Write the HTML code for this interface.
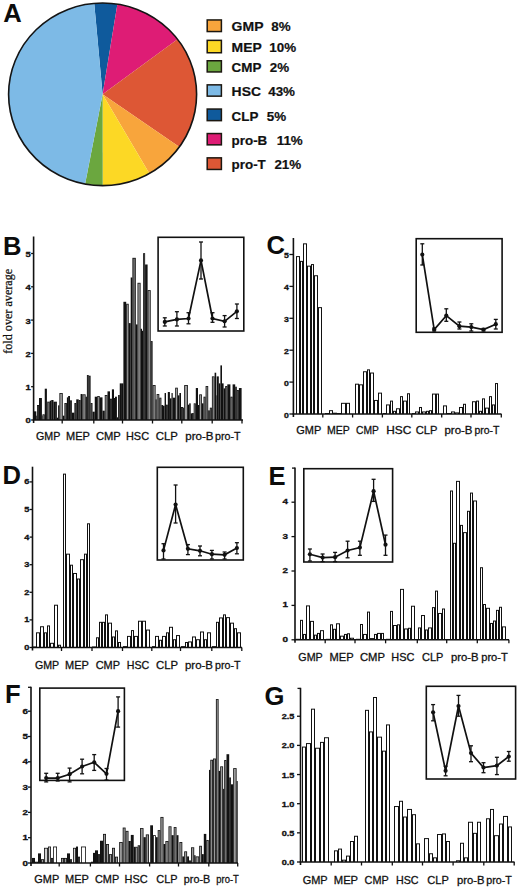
<!DOCTYPE html>
<html><head><meta charset="utf-8"><title>Figure</title>
<style>
html,body{margin:0;padding:0;background:#fff;}
body{width:520px;height:890px;overflow:hidden;}
svg{display:block;}
.lg{font-family:"Liberation Sans", sans-serif;font-weight:bold;font-size:13.4px;fill:#111;stroke:#111;stroke-width:0.2px;}
.pl{font-family:"Liberation Sans", sans-serif;font-weight:bold;font-size:25.6px;fill:#0c0c0c;}
.yt{font-family:"Liberation Sans", sans-serif;font-weight:bold;font-size:7.3px;fill:#111;stroke:#111;stroke-width:0.3px;}
.xl{font-family:"Liberation Sans", sans-serif;font-size:11px;fill:#111;stroke:#111;stroke-width:0.3px;}
.yl{font-family:"Liberation Serif", serif;font-size:12.2px;fill:#111;stroke:#111;stroke-width:0.25px;}
</style></head>
<body>
<svg width="520" height="890" viewBox="0 0 520 890">
<rect width="520" height="890" fill="#fff"/>
<defs><clipPath id="pc"><ellipse cx="102.6" cy="94.3" rx="94" ry="91.3"/></clipPath></defs>
<g clip-path="url(#pc)">
<polygon fill="#0F5A9C" points="102.6,94.3 77.4,-179.6 147,-176.6"/>
<polygon fill="#DE1C75" points="102.6,94.3 147,-176.6 240,-60 326.4,-69.8"/>
<polygon fill="#DD5735" points="102.6,94.3 326.4,-69.8 320,94 329.1,249.4"/>
<polygon fill="#F8A53C" points="102.6,94.3 329.1,249.4 250,300 237.3,322.3"/>
<polygon fill="#FCD825" points="102.6,94.3 237.3,322.3 102.9,369.4"/>
<polygon fill="#6BA73F" points="102.6,94.3 102.9,369.4 51,358.9"/>
<polygon fill="#7DBAE6" points="102.6,94.3 51,358.9 -200,300 -200,-200 77.4,-179.6"/>
</g>
<ellipse cx="102.6" cy="94.3" rx="94" ry="91.3" fill="none" stroke="#141414" stroke-width="1.6"/>
<rect x="207.2" y="19.95" width="14.2" height="11.6" fill="#F8A53C" stroke="#1c1710" stroke-width="1.5"/>
<text x="231.6" y="31.2" class="lg" textLength="31.9" lengthAdjust="spacingAndGlyphs">GMP</text>
<text x="271.3" y="31.2" class="lg">8%</text>
<rect x="207.2" y="40.35" width="14.2" height="12.4" fill="#FCD825" stroke="#1c1710" stroke-width="1.5"/>
<text x="231.6" y="52.3" class="lg" textLength="30.2" lengthAdjust="spacingAndGlyphs">MEP</text>
<text x="269.3" y="52.3" class="lg">10%</text>
<rect x="207.2" y="60.75" width="14.2" height="11.2" fill="#6BA73F" stroke="#1c1710" stroke-width="1.5"/>
<text x="231.6" y="72.3" class="lg">CMP</text>
<text x="269.8" y="72.3" class="lg">2%</text>
<rect x="207.2" y="84.85" width="14.2" height="11.3" fill="#7DBAE6" stroke="#1c1710" stroke-width="1.5"/>
<text x="231.6" y="95.9" class="lg" textLength="29.4" lengthAdjust="spacingAndGlyphs">HSC</text>
<text x="268.2" y="95.9" class="lg">43%</text>
<rect x="207.2" y="109.05" width="14.2" height="11.6" fill="#0F5A9C" stroke="#1c1710" stroke-width="1.5"/>
<text x="231.6" y="120.5" class="lg">CLP</text>
<text x="266.7" y="120.5" class="lg">5%</text>
<rect x="207.2" y="133.55" width="14.2" height="11.3" fill="#DE1C75" stroke="#1c1710" stroke-width="1.5"/>
<text x="231.6" y="145" class="lg">pro-B</text>
<text x="276.7" y="145" class="lg">11%</text>
<rect x="207.2" y="157.85" width="14.2" height="11.6" fill="#DD5735" stroke="#1c1710" stroke-width="1.5"/>
<text x="231.6" y="168.8" class="lg">pro-T</text>
<text x="274.4" y="168.8" class="lg">21%</text>
<text x="3.2" y="21.9" class="pl">A</text>
<text x="3" y="254.8" class="pl">B</text>
<text x="266.6" y="253.6" class="pl">C</text>
<text x="2.4" y="483.7" class="pl">D</text>
<text x="268.6" y="485.2" class="pl">E</text>
<text x="4.9" y="702.8" class="pl">F</text>
<text x="264.5" y="704.7" class="pl">G</text>
<rect x="33.5" y="411.34" width="2.8" height="8.66" fill="#111"/>
<rect x="34.3" y="412.14" width="1.2" height="7.86" fill="#151515"/>
<rect x="36.3" y="415.67" width="0.7" height="4.33" fill="#111"/>
<rect x="37" y="405.01" width="2" height="14.99" fill="#111"/>
<rect x="37.8" y="405.81" width="0.4" height="14.19" fill="#9a9a9a"/>
<rect x="39" y="398.02" width="2.9" height="21.98" fill="#111"/>
<rect x="39.8" y="398.82" width="1.3" height="21.18" fill="#151515"/>
<rect x="41.9" y="415.67" width="0.6" height="4.33" fill="#111"/>
<rect x="42.5" y="414.34" width="2.25" height="5.66" fill="#111"/>
<rect x="43.3" y="415.14" width="0.65" height="4.86" fill="#9a9a9a"/>
<rect x="44.75" y="388.7" width="2.15" height="31.3" fill="#111"/>
<rect x="45.55" y="389.5" width="0.55" height="30.5" fill="#151515"/>
<rect x="46.9" y="401.69" width="0.6" height="18.31" fill="#111"/>
<rect x="47.5" y="401.69" width="2.25" height="18.31" fill="#111"/>
<rect x="48.3" y="402.49" width="0.65" height="17.51" fill="#9a9a9a"/>
<rect x="49.75" y="400.69" width="1.5" height="19.31" fill="#111"/>
<rect x="51.25" y="400.02" width="2.25" height="19.98" fill="#111"/>
<rect x="52.05" y="400.82" width="0.65" height="19.18" fill="#151515"/>
<rect x="53.5" y="401.69" width="1.5" height="18.31" fill="#111"/>
<rect x="55" y="401.69" width="1.9" height="18.31" fill="#111"/>
<rect x="55.8" y="402.49" width="0.3" height="17.51" fill="#9a9a9a"/>
<rect x="56.9" y="417.67" width="1.2" height="2.33" fill="#111"/>
<rect x="58.1" y="405.35" width="1.3" height="14.65" fill="#111"/>
<rect x="59.4" y="393.03" width="3.35" height="26.97" fill="#111"/>
<rect x="60.2" y="393.83" width="1.75" height="26.17" fill="#9a9a9a"/>
<rect x="62.75" y="415.67" width="1.65" height="4.33" fill="#111"/>
<rect x="63.55" y="416.47" width="0.05" height="3.53" fill="#151515"/>
<rect x="64.4" y="403.02" width="2.5" height="16.98" fill="#111"/>
<rect x="65.2" y="403.82" width="0.9" height="16.18" fill="#666"/>
<rect x="66.9" y="397.36" width="1.2" height="22.64" fill="#111"/>
<rect x="68.1" y="396.02" width="1.9" height="23.98" fill="#111"/>
<rect x="68.9" y="396.82" width="0.3" height="23.18" fill="#151515"/>
<rect x="70" y="400.35" width="1.9" height="19.65" fill="#111"/>
<rect x="70.8" y="401.15" width="0.3" height="18.85" fill="#9a9a9a"/>
<rect x="71.9" y="412.67" width="2.5" height="7.33" fill="#111"/>
<rect x="72.7" y="413.47" width="0.9" height="6.53" fill="#151515"/>
<rect x="74.4" y="403.02" width="1.85" height="16.98" fill="#111"/>
<rect x="75.2" y="403.82" width="0.25" height="16.18" fill="#9a9a9a"/>
<rect x="76.25" y="399.35" width="2.5" height="20.65" fill="#111"/>
<rect x="77.05" y="400.15" width="0.9" height="19.85" fill="#151515"/>
<rect x="78.75" y="400.02" width="1.85" height="19.98" fill="#111"/>
<rect x="79.55" y="400.82" width="0.25" height="19.18" fill="#9a9a9a"/>
<rect x="80.6" y="394.03" width="1.9" height="25.97" fill="#111"/>
<rect x="81.4" y="394.83" width="0.3" height="25.17" fill="#151515"/>
<rect x="82.5" y="394.36" width="3.1" height="25.64" fill="#111"/>
<rect x="83.3" y="395.16" width="1.5" height="24.84" fill="#9a9a9a"/>
<rect x="85.6" y="396.69" width="1.3" height="23.31" fill="#111"/>
<rect x="86.9" y="375.05" width="1.85" height="44.95" fill="#111"/>
<rect x="87.7" y="375.85" width="0.25" height="44.15" fill="#666"/>
<rect x="88.75" y="375.71" width="1.85" height="44.29" fill="#111"/>
<rect x="89.55" y="376.51" width="0.25" height="43.49" fill="#9a9a9a"/>
<rect x="90.6" y="403.02" width="1.9" height="16.98" fill="#111"/>
<rect x="91.4" y="403.82" width="0.3" height="16.18" fill="#9a9a9a"/>
<rect x="92.5" y="411.68" width="2.25" height="8.32" fill="#111"/>
<rect x="93.3" y="412.48" width="0.65" height="7.52" fill="#151515"/>
<rect x="94.75" y="396.69" width="2.5" height="23.31" fill="#111"/>
<rect x="95.55" y="397.49" width="0.9" height="22.51" fill="#151515"/>
<rect x="97.25" y="396.02" width="2.5" height="23.98" fill="#111"/>
<rect x="98.05" y="396.82" width="0.9" height="23.18" fill="#9a9a9a"/>
<rect x="99.75" y="397.36" width="2.75" height="22.64" fill="#111"/>
<rect x="100.55" y="398.16" width="1.15" height="21.84" fill="#151515"/>
<rect x="102.5" y="410.68" width="2.25" height="9.32" fill="#111"/>
<rect x="103.3" y="411.48" width="0.65" height="8.52" fill="#151515"/>
<rect x="104.75" y="395.02" width="2.75" height="24.98" fill="#111"/>
<rect x="105.55" y="395.82" width="1.15" height="24.18" fill="#9a9a9a"/>
<rect x="107.5" y="391.36" width="2.5" height="28.64" fill="#111"/>
<rect x="108.3" y="392.16" width="0.9" height="27.84" fill="#151515"/>
<rect x="110" y="398.69" width="1.9" height="21.31" fill="#111"/>
<rect x="110.8" y="399.49" width="0.3" height="20.51" fill="#9a9a9a"/>
<rect x="111.9" y="389.36" width="2.1" height="30.64" fill="#111"/>
<rect x="112.7" y="390.16" width="0.5" height="29.84" fill="#151515"/>
<rect x="114" y="398.02" width="1" height="21.98" fill="#111"/>
<rect x="115" y="396.69" width="1.9" height="23.31" fill="#111"/>
<rect x="115.8" y="397.49" width="0.3" height="22.51" fill="#151515"/>
<rect x="116.9" y="417.34" width="1.2" height="2.66" fill="#111"/>
<rect x="118.1" y="395.02" width="1.65" height="24.98" fill="#111"/>
<rect x="118.9" y="395.82" width="0.05" height="24.18" fill="#151515"/>
<rect x="119.75" y="383.37" width="2.15" height="36.63" fill="#111"/>
<rect x="120.55" y="384.17" width="0.55" height="35.83" fill="#151515"/>
<rect x="121.9" y="383.37" width="1.5" height="36.63" fill="#111"/>
<rect x="123.4" y="301.79" width="2.8" height="118.21" fill="#111"/>
<rect x="124.2" y="302.59" width="1.2" height="117.41" fill="#151515"/>
<rect x="126.2" y="303.78" width="2.5" height="116.22" fill="#111"/>
<rect x="127" y="304.58" width="0.9" height="115.42" fill="#9a9a9a"/>
<rect x="128.7" y="323.1" width="2" height="96.9" fill="#111"/>
<rect x="129.5" y="323.9" width="0.4" height="96.1" fill="#151515"/>
<rect x="130.7" y="277.48" width="1.7" height="142.52" fill="#111"/>
<rect x="131.5" y="278.28" width="0.1" height="141.72" fill="#151515"/>
<rect x="132.4" y="257.83" width="3.4" height="162.17" fill="#111"/>
<rect x="133.2" y="258.63" width="1.8" height="161.37" fill="#666"/>
<rect x="135.8" y="324.43" width="1.7" height="95.57" fill="#111"/>
<rect x="136.6" y="325.23" width="0.1" height="94.77" fill="#151515"/>
<rect x="137.5" y="282.8" width="3.1" height="137.2" fill="#111"/>
<rect x="138.3" y="283.6" width="1.5" height="136.4" fill="#9a9a9a"/>
<rect x="140.6" y="328.76" width="1.4" height="91.24" fill="#111"/>
<rect x="142" y="330.76" width="1.1" height="89.24" fill="#111"/>
<rect x="143.1" y="253.17" width="2" height="166.83" fill="#111"/>
<rect x="143.9" y="253.97" width="0.4" height="166.03" fill="#9a9a9a"/>
<rect x="145.1" y="264.49" width="2.5" height="155.51" fill="#111"/>
<rect x="145.9" y="265.29" width="0.9" height="154.71" fill="#151515"/>
<rect x="147.6" y="290.13" width="3.1" height="129.87" fill="#111"/>
<rect x="148.4" y="290.93" width="1.5" height="129.07" fill="#9a9a9a"/>
<rect x="150.7" y="341.08" width="1.9" height="78.92" fill="#111"/>
<rect x="151.5" y="341.88" width="0.3" height="78.12" fill="#9a9a9a"/>
<rect x="152.6" y="385.04" width="3" height="34.96" fill="#111"/>
<rect x="153.4" y="385.84" width="1.4" height="34.16" fill="#9a9a9a"/>
<rect x="155.6" y="399.35" width="1" height="20.65" fill="#111"/>
<rect x="156.6" y="394.03" width="2.7" height="25.97" fill="#111"/>
<rect x="157.4" y="394.83" width="1.1" height="25.17" fill="#9a9a9a"/>
<rect x="159.3" y="397.69" width="2.1" height="22.31" fill="#111"/>
<rect x="160.1" y="398.49" width="0.5" height="21.51" fill="#9a9a9a"/>
<rect x="161.4" y="405.01" width="1.6" height="14.99" fill="#111"/>
<rect x="163" y="405.68" width="1.6" height="14.32" fill="#111"/>
<rect x="164.6" y="393.03" width="1.4" height="26.97" fill="#111"/>
<rect x="166" y="404.68" width="1.8" height="15.32" fill="#111"/>
<rect x="166.8" y="405.48" width="0.2" height="14.52" fill="#9a9a9a"/>
<rect x="167.8" y="392.03" width="2.1" height="27.97" fill="#111"/>
<rect x="168.6" y="392.83" width="0.5" height="27.17" fill="#151515"/>
<rect x="169.9" y="398.36" width="1.6" height="21.64" fill="#111"/>
<rect x="171.5" y="393.03" width="1.2" height="26.97" fill="#111"/>
<rect x="172.7" y="397.69" width="2.5" height="22.31" fill="#111"/>
<rect x="173.5" y="398.49" width="0.9" height="21.51" fill="#151515"/>
<rect x="175.2" y="387.7" width="2.6" height="32.3" fill="#111"/>
<rect x="176" y="388.5" width="1" height="31.5" fill="#9a9a9a"/>
<rect x="177.8" y="395.36" width="1.6" height="24.64" fill="#111"/>
<rect x="179.4" y="393.03" width="1.6" height="26.97" fill="#111"/>
<rect x="181" y="407.01" width="2.1" height="12.99" fill="#111"/>
<rect x="181.8" y="407.81" width="0.5" height="12.19" fill="#9a9a9a"/>
<rect x="183.1" y="407.68" width="1.1" height="12.32" fill="#111"/>
<rect x="184.2" y="385.04" width="3.7" height="34.96" fill="#111"/>
<rect x="185" y="385.84" width="2.1" height="34.16" fill="#9a9a9a"/>
<rect x="187.9" y="404.68" width="1.3" height="15.32" fill="#111"/>
<rect x="189.2" y="403.35" width="1.5" height="16.65" fill="#111"/>
<rect x="190.7" y="413.34" width="1.4" height="6.66" fill="#111"/>
<rect x="192.1" y="413.01" width="1.6" height="6.99" fill="#111"/>
<rect x="193.7" y="403.35" width="2.1" height="16.65" fill="#111"/>
<rect x="194.5" y="404.15" width="0.5" height="15.85" fill="#9a9a9a"/>
<rect x="195.8" y="388.03" width="2.2" height="31.97" fill="#111"/>
<rect x="196.6" y="388.83" width="0.6" height="31.17" fill="#151515"/>
<rect x="198" y="405.01" width="1.2" height="14.99" fill="#111"/>
<rect x="199.2" y="394.36" width="2.7" height="25.64" fill="#111"/>
<rect x="200" y="395.16" width="1.1" height="24.84" fill="#9a9a9a"/>
<rect x="201.9" y="403.35" width="1.6" height="16.65" fill="#111"/>
<rect x="203.5" y="396.69" width="2.1" height="23.31" fill="#111"/>
<rect x="204.3" y="397.49" width="0.5" height="22.51" fill="#9a9a9a"/>
<rect x="205.6" y="386.03" width="2.6" height="33.97" fill="#111"/>
<rect x="206.4" y="386.83" width="1" height="33.17" fill="#9a9a9a"/>
<rect x="208.2" y="410.34" width="1.6" height="9.66" fill="#111"/>
<rect x="209" y="411.14" width="0" height="8.86" fill="#151515"/>
<rect x="209.8" y="407.68" width="2.1" height="12.32" fill="#111"/>
<rect x="210.6" y="408.48" width="0.5" height="11.52" fill="#9a9a9a"/>
<rect x="211.9" y="376.38" width="2.7" height="43.62" fill="#111"/>
<rect x="212.7" y="377.18" width="1.1" height="42.82" fill="#9a9a9a"/>
<rect x="214.6" y="372.71" width="1.6" height="47.29" fill="#111"/>
<rect x="216.2" y="395.36" width="0.5" height="24.64" fill="#111"/>
<rect x="216.7" y="376.38" width="2.1" height="43.62" fill="#111"/>
<rect x="217.5" y="377.18" width="0.5" height="42.82" fill="#151515"/>
<rect x="218.8" y="383.37" width="1.6" height="36.63" fill="#111"/>
<rect x="220.4" y="365.39" width="1.6" height="54.61" fill="#111"/>
<rect x="222" y="383.37" width="1.6" height="36.63" fill="#111"/>
<rect x="223.6" y="388.37" width="1.6" height="31.63" fill="#111"/>
<rect x="225.2" y="386.03" width="2.1" height="33.97" fill="#111"/>
<rect x="226" y="386.83" width="0.5" height="33.17" fill="#9a9a9a"/>
<rect x="227.3" y="384.37" width="3.1" height="35.63" fill="#111"/>
<rect x="228.1" y="385.17" width="1.5" height="34.83" fill="#151515"/>
<rect x="230.4" y="396.69" width="2.2" height="23.31" fill="#111"/>
<rect x="231.2" y="397.49" width="0.6" height="22.51" fill="#9a9a9a"/>
<rect x="232.6" y="384.37" width="2.6" height="35.63" fill="#111"/>
<rect x="233.4" y="385.17" width="1" height="34.83" fill="#151515"/>
<rect x="235.2" y="386.7" width="1.6" height="33.3" fill="#111"/>
<rect x="236" y="387.5" width="0" height="32.5" fill="#151515"/>
<rect x="236.8" y="390.03" width="2.1" height="29.97" fill="#111"/>
<rect x="237.6" y="390.83" width="0.5" height="29.17" fill="#9a9a9a"/>
<rect x="238.9" y="388.03" width="2.7" height="31.97" fill="#111"/>
<rect x="239.7" y="388.83" width="1.1" height="31.17" fill="#151515"/>
<line x1="33.6" y1="236.5" x2="33.6" y2="423" stroke="#111" stroke-width="1.6"/>
<line x1="32.8" y1="420" x2="243" y2="420" stroke="#111" stroke-width="1.5"/>
<line x1="62.2" y1="420" x2="62.2" y2="423.5" stroke="#111" stroke-width="1.3"/>
<line x1="93.8" y1="420" x2="93.8" y2="423.5" stroke="#111" stroke-width="1.3"/>
<line x1="122.5" y1="420" x2="122.5" y2="423.5" stroke="#111" stroke-width="1.3"/>
<line x1="152.5" y1="420" x2="152.5" y2="423.5" stroke="#111" stroke-width="1.3"/>
<line x1="181.8" y1="420" x2="181.8" y2="423.5" stroke="#111" stroke-width="1.3"/>
<line x1="212.2" y1="420" x2="212.2" y2="423.5" stroke="#111" stroke-width="1.3"/>
<line x1="242" y1="420" x2="242" y2="423.5" stroke="#111" stroke-width="1.3"/>
<line x1="31.1" y1="420" x2="33.6" y2="420" stroke="#111" stroke-width="1.3"/>
<text transform="translate(30.8,422.5) scale(1.3,1)" class="yt" text-anchor="end">0</text>
<line x1="31.1" y1="386.7" x2="33.6" y2="386.7" stroke="#111" stroke-width="1.3"/>
<text transform="translate(30.8,390.2) scale(1.3,1)" class="yt" text-anchor="end">1</text>
<line x1="31.1" y1="353.4" x2="33.6" y2="353.4" stroke="#111" stroke-width="1.3"/>
<text transform="translate(30.8,356.9) scale(1.3,1)" class="yt" text-anchor="end">2</text>
<line x1="31.1" y1="320.1" x2="33.6" y2="320.1" stroke="#111" stroke-width="1.3"/>
<text transform="translate(30.8,323.6) scale(1.3,1)" class="yt" text-anchor="end">3</text>
<line x1="31.1" y1="286.8" x2="33.6" y2="286.8" stroke="#111" stroke-width="1.3"/>
<text transform="translate(30.8,290.3) scale(1.3,1)" class="yt" text-anchor="end">4</text>
<line x1="31.1" y1="253.5" x2="33.6" y2="253.5" stroke="#111" stroke-width="1.3"/>
<text transform="translate(30.8,257) scale(1.3,1)" class="yt" text-anchor="end">5</text>
<text x="48.15" y="439.7" class="xl" text-anchor="middle" textLength="24.3" lengthAdjust="spacingAndGlyphs">GMP</text>
<text x="77.9" y="439.7" class="xl" text-anchor="middle" textLength="23.8" lengthAdjust="spacingAndGlyphs">MEP</text>
<text x="108.4" y="439.7" class="xl" text-anchor="middle" textLength="24.8" lengthAdjust="spacingAndGlyphs">CMP</text>
<text x="137.5" y="439.7" class="xl" text-anchor="middle" textLength="23" lengthAdjust="spacingAndGlyphs">HSC</text>
<text x="166.75" y="439.7" class="xl" text-anchor="middle" textLength="22.1" lengthAdjust="spacingAndGlyphs">CLP</text>
<text x="199.45" y="439.7" class="xl" text-anchor="middle" textLength="28.3" lengthAdjust="spacingAndGlyphs">pro-B</text>
<text x="227.75" y="439.7" class="xl" text-anchor="middle" textLength="25.5" lengthAdjust="spacingAndGlyphs">pro-T</text>
<rect x="158.1" y="237.3" width="85.7" height="93.7" fill="#fff" stroke="#111" stroke-width="1.6"/>
<polyline fill="none" stroke="#111" stroke-width="1.7" stroke-linejoin="miter" points="164.8,321.9 176.9,319.4 188.5,318.5 201,260.4 212.5,318.5 224.6,321.3 236.9,311.3"/>
<line x1="164.8" y1="317.8" x2="164.8" y2="326" stroke="#111" stroke-width="1.3"/>
<line x1="162.8" y1="317.8" x2="166.8" y2="317.8" stroke="#111" stroke-width="1.3"/>
<line x1="162.8" y1="326" x2="166.8" y2="326" stroke="#111" stroke-width="1.3"/>
<circle cx="164.8" cy="321.9" r="2.1" fill="#111"/>
<line x1="176.9" y1="311.7" x2="176.9" y2="326" stroke="#111" stroke-width="1.3"/>
<line x1="174.9" y1="311.7" x2="178.9" y2="311.7" stroke="#111" stroke-width="1.3"/>
<line x1="174.9" y1="326" x2="178.9" y2="326" stroke="#111" stroke-width="1.3"/>
<circle cx="176.9" cy="319.4" r="2.1" fill="#111"/>
<line x1="188.5" y1="312.7" x2="188.5" y2="323.8" stroke="#111" stroke-width="1.3"/>
<line x1="186.5" y1="312.7" x2="190.5" y2="312.7" stroke="#111" stroke-width="1.3"/>
<line x1="186.5" y1="323.8" x2="190.5" y2="323.8" stroke="#111" stroke-width="1.3"/>
<circle cx="188.5" cy="318.5" r="2.1" fill="#111"/>
<line x1="201" y1="242" x2="201" y2="279" stroke="#111" stroke-width="1.3"/>
<line x1="199" y1="242" x2="203" y2="242" stroke="#111" stroke-width="1.3"/>
<line x1="199" y1="279" x2="203" y2="279" stroke="#111" stroke-width="1.3"/>
<circle cx="201" cy="260.4" r="2.1" fill="#111"/>
<line x1="212.5" y1="312.7" x2="212.5" y2="322.3" stroke="#111" stroke-width="1.3"/>
<line x1="210.5" y1="312.7" x2="214.5" y2="312.7" stroke="#111" stroke-width="1.3"/>
<line x1="210.5" y1="322.3" x2="214.5" y2="322.3" stroke="#111" stroke-width="1.3"/>
<circle cx="212.5" cy="318.5" r="2.1" fill="#111"/>
<line x1="224.6" y1="315.6" x2="224.6" y2="327" stroke="#111" stroke-width="1.3"/>
<line x1="222.6" y1="315.6" x2="226.6" y2="315.6" stroke="#111" stroke-width="1.3"/>
<line x1="222.6" y1="327" x2="226.6" y2="327" stroke="#111" stroke-width="1.3"/>
<circle cx="224.6" cy="321.3" r="2.1" fill="#111"/>
<line x1="236.9" y1="304" x2="236.9" y2="318.5" stroke="#111" stroke-width="1.3"/>
<line x1="234.9" y1="304" x2="238.9" y2="304" stroke="#111" stroke-width="1.3"/>
<line x1="234.9" y1="318.5" x2="238.9" y2="318.5" stroke="#111" stroke-width="1.3"/>
<circle cx="236.9" cy="311.3" r="2.1" fill="#111"/>
<rect x="296" y="256.1" width="4" height="157.9" fill="#111"/>
<rect x="297" y="257.1" width="2" height="156.9" fill="#fff"/>
<rect x="300" y="260.88" width="3" height="153.12" fill="#111"/>
<rect x="301" y="261.88" width="1" height="152.12" fill="#fff"/>
<rect x="303" y="243.34" width="4" height="170.66" fill="#111"/>
<rect x="304" y="244.34" width="2" height="169.66" fill="#fff"/>
<rect x="307" y="265.66" width="4" height="148.34" fill="#111"/>
<rect x="308" y="266.66" width="2" height="147.34" fill="#fff"/>
<rect x="311" y="264.07" width="3" height="149.93" fill="#111"/>
<rect x="312" y="265.07" width="1" height="148.93" fill="#fff"/>
<rect x="314" y="275.24" width="4" height="138.76" fill="#111"/>
<rect x="315" y="276.24" width="2" height="137.76" fill="#fff"/>
<rect x="318" y="307.13" width="4" height="106.87" fill="#111"/>
<rect x="319" y="308.13" width="2" height="105.87" fill="#fff"/>
<rect x="325" y="413" width="4" height="1" fill="#111"/>
<rect x="329" y="410.17" width="4" height="3.83" fill="#111"/>
<rect x="330" y="411.17" width="2" height="2.83" fill="#fff"/>
<rect x="333" y="412.72" width="4" height="1.28" fill="#111"/>
<rect x="337" y="413" width="4" height="1" fill="#111"/>
<rect x="341" y="402.83" width="5" height="11.17" fill="#111"/>
<rect x="342" y="403.83" width="3" height="10.17" fill="#fff"/>
<rect x="346" y="402.83" width="4" height="11.17" fill="#111"/>
<rect x="347" y="403.83" width="2" height="10.17" fill="#fff"/>
<rect x="355" y="383.69" width="4" height="30.31" fill="#111"/>
<rect x="356" y="384.69" width="2" height="29.31" fill="#fff"/>
<rect x="359" y="384.33" width="4" height="29.67" fill="#111"/>
<rect x="360" y="385.33" width="2" height="28.67" fill="#fff"/>
<rect x="363" y="371.25" width="4" height="42.75" fill="#111"/>
<rect x="364" y="372.25" width="2" height="41.75" fill="#fff"/>
<rect x="367" y="369.34" width="3" height="44.66" fill="#111"/>
<rect x="368" y="370.34" width="1" height="43.66" fill="#fff"/>
<rect x="370" y="372.53" width="4" height="41.47" fill="#111"/>
<rect x="371" y="373.53" width="2" height="40.47" fill="#fff"/>
<rect x="374" y="399.96" width="4" height="14.04" fill="#111"/>
<rect x="375" y="400.96" width="2" height="13.04" fill="#fff"/>
<rect x="378" y="392.63" width="4" height="21.37" fill="#111"/>
<rect x="379" y="393.63" width="2" height="20.37" fill="#fff"/>
<rect x="383" y="413" width="3" height="1" fill="#111"/>
<rect x="386" y="404.43" width="4" height="9.57" fill="#111"/>
<rect x="387" y="405.43" width="2" height="8.57" fill="#fff"/>
<rect x="390" y="400.6" width="3" height="13.4" fill="#111"/>
<rect x="391" y="401.6" width="1" height="12.4" fill="#fff"/>
<rect x="393" y="410.81" width="3" height="3.19" fill="#111"/>
<rect x="394" y="411.81" width="1" height="2.19" fill="#fff"/>
<rect x="396" y="408.26" width="4" height="5.74" fill="#111"/>
<rect x="397" y="409.26" width="2" height="4.74" fill="#fff"/>
<rect x="400" y="396.14" width="3" height="17.86" fill="#111"/>
<rect x="401" y="397.14" width="1" height="16.86" fill="#fff"/>
<rect x="403" y="400.6" width="4" height="13.4" fill="#111"/>
<rect x="404" y="401.6" width="2" height="12.4" fill="#fff"/>
<rect x="407" y="393.26" width="3" height="20.74" fill="#111"/>
<rect x="408" y="394.26" width="1" height="19.74" fill="#fff"/>
<rect x="412" y="413" width="3" height="1" fill="#111"/>
<rect x="415" y="411.45" width="4" height="2.55" fill="#111"/>
<rect x="416" y="412.45" width="2" height="1.55" fill="#fff"/>
<rect x="419" y="406.98" width="3" height="7.02" fill="#111"/>
<rect x="420" y="407.98" width="1" height="6.02" fill="#fff"/>
<rect x="422" y="411.45" width="4" height="2.55" fill="#111"/>
<rect x="423" y="412.45" width="2" height="1.55" fill="#fff"/>
<rect x="426" y="410.81" width="3" height="3.19" fill="#111"/>
<rect x="427" y="411.81" width="1" height="2.19" fill="#fff"/>
<rect x="429" y="410.17" width="3" height="3.83" fill="#111"/>
<rect x="430" y="411.17" width="1" height="2.83" fill="#fff"/>
<rect x="432" y="393.58" width="4" height="20.42" fill="#111"/>
<rect x="433" y="394.58" width="2" height="19.42" fill="#fff"/>
<rect x="436" y="393.58" width="3" height="20.42" fill="#111"/>
<rect x="437" y="394.58" width="1" height="19.42" fill="#fff"/>
<rect x="443" y="405.39" width="4" height="8.61" fill="#111"/>
<rect x="444" y="406.39" width="2" height="7.61" fill="#fff"/>
<rect x="447" y="413" width="4" height="1" fill="#111"/>
<rect x="451" y="411.45" width="4" height="2.55" fill="#111"/>
<rect x="452" y="412.45" width="2" height="1.55" fill="#fff"/>
<rect x="455" y="412.4" width="4" height="1.6" fill="#111"/>
<rect x="456" y="413.4" width="2" height="0.6" fill="#fff"/>
<rect x="459" y="406.98" width="4" height="7.02" fill="#111"/>
<rect x="460" y="407.98" width="2" height="6.02" fill="#fff"/>
<rect x="463" y="403.79" width="3" height="10.21" fill="#111"/>
<rect x="464" y="404.79" width="1" height="9.21" fill="#fff"/>
<rect x="472" y="401.24" width="4" height="12.76" fill="#111"/>
<rect x="473" y="402.24" width="2" height="11.76" fill="#fff"/>
<rect x="476" y="400.6" width="3" height="13.4" fill="#111"/>
<rect x="477" y="401.6" width="1" height="12.4" fill="#fff"/>
<rect x="479" y="410.81" width="3" height="3.19" fill="#111"/>
<rect x="480" y="411.81" width="1" height="2.19" fill="#fff"/>
<rect x="482" y="398.37" width="3" height="15.63" fill="#111"/>
<rect x="483" y="399.37" width="1" height="14.63" fill="#fff"/>
<rect x="485" y="407.62" width="4" height="6.38" fill="#111"/>
<rect x="486" y="408.62" width="2" height="5.38" fill="#fff"/>
<rect x="489" y="396.14" width="3" height="17.86" fill="#111"/>
<rect x="490" y="397.14" width="1" height="16.86" fill="#fff"/>
<rect x="492" y="404.43" width="3" height="9.57" fill="#111"/>
<rect x="493" y="405.43" width="1" height="8.57" fill="#fff"/>
<rect x="495" y="383.06" width="3" height="30.94" fill="#111"/>
<rect x="496" y="384.06" width="1" height="29.94" fill="#fff"/>
<line x1="293.4" y1="238" x2="293.4" y2="417" stroke="#111" stroke-width="1.6"/>
<line x1="292.6" y1="414" x2="501.5" y2="414" stroke="#111" stroke-width="1.5"/>
<line x1="322.8" y1="414" x2="322.8" y2="417.5" stroke="#111" stroke-width="1.3"/>
<line x1="352.6" y1="414" x2="352.6" y2="417.5" stroke="#111" stroke-width="1.3"/>
<line x1="382.4" y1="414" x2="382.4" y2="417.5" stroke="#111" stroke-width="1.3"/>
<line x1="411.8" y1="414" x2="411.8" y2="417.5" stroke="#111" stroke-width="1.3"/>
<line x1="441.7" y1="414" x2="441.7" y2="417.5" stroke="#111" stroke-width="1.3"/>
<line x1="471" y1="414" x2="471" y2="417.5" stroke="#111" stroke-width="1.3"/>
<line x1="501.3" y1="414" x2="501.3" y2="417.5" stroke="#111" stroke-width="1.3"/>
<line x1="289.4" y1="414" x2="293.4" y2="414" stroke="#111" stroke-width="1.3"/>
<text transform="translate(288.8,417.9) scale(1.2,1)" class="yt" text-anchor="end">0</text>
<line x1="289.4" y1="382.1" x2="293.4" y2="382.1" stroke="#111" stroke-width="1.3"/>
<text transform="translate(288.8,386) scale(1.2,1)" class="yt" text-anchor="end">0</text>
<line x1="289.4" y1="350.2" x2="293.4" y2="350.2" stroke="#111" stroke-width="1.3"/>
<text transform="translate(288.8,354.1) scale(1.2,1)" class="yt" text-anchor="end">2</text>
<line x1="289.4" y1="318.3" x2="293.4" y2="318.3" stroke="#111" stroke-width="1.3"/>
<text transform="translate(288.8,322.2) scale(1.2,1)" class="yt" text-anchor="end">3</text>
<line x1="289.4" y1="286.4" x2="293.4" y2="286.4" stroke="#111" stroke-width="1.3"/>
<text transform="translate(288.8,290.3) scale(1.2,1)" class="yt" text-anchor="end">4</text>
<line x1="289.4" y1="254.5" x2="293.4" y2="254.5" stroke="#111" stroke-width="1.3"/>
<text transform="translate(288.8,258.4) scale(1.2,1)" class="yt" text-anchor="end">5</text>
<text x="308.8" y="433.8" class="xl" text-anchor="middle" textLength="25" lengthAdjust="spacingAndGlyphs">GMP</text>
<text x="338.35" y="433.8" class="xl" text-anchor="middle" textLength="22.7" lengthAdjust="spacingAndGlyphs">MEP</text>
<text x="367.4" y="433.8" class="xl" text-anchor="middle" textLength="22.8" lengthAdjust="spacingAndGlyphs">CMP</text>
<text x="398.8" y="433.8" class="xl" text-anchor="middle" textLength="25" lengthAdjust="spacingAndGlyphs">HSC</text>
<text x="426.65" y="433.8" class="xl" text-anchor="middle" textLength="21.7" lengthAdjust="spacingAndGlyphs">CLP</text>
<text x="458.5" y="433.8" class="xl" text-anchor="middle" textLength="28" lengthAdjust="spacingAndGlyphs">pro-B</text>
<text x="487" y="433.8" class="xl" text-anchor="middle" textLength="25" lengthAdjust="spacingAndGlyphs">pro-T</text>
<rect x="416.2" y="238.7" width="85.9" height="93.6" fill="#fff" stroke="#111" stroke-width="1.6"/>
<polyline fill="none" stroke="#111" stroke-width="1.7" stroke-linejoin="miter" points="422.3,254.6 434.2,329.6 446.3,315.6 459.4,326.2 471.3,327.1 483.5,329.6 495.8,324.2"/>
<line x1="422.3" y1="243.8" x2="422.3" y2="265" stroke="#111" stroke-width="1.3"/>
<line x1="420.3" y1="243.8" x2="424.3" y2="243.8" stroke="#111" stroke-width="1.3"/>
<line x1="420.3" y1="265" x2="424.3" y2="265" stroke="#111" stroke-width="1.3"/>
<circle cx="422.3" cy="254.6" r="2.1" fill="#111"/>
<line x1="434.2" y1="328" x2="434.2" y2="331" stroke="#111" stroke-width="1.3"/>
<line x1="432.2" y1="328" x2="436.2" y2="328" stroke="#111" stroke-width="1.3"/>
<line x1="432.2" y1="331" x2="436.2" y2="331" stroke="#111" stroke-width="1.3"/>
<circle cx="434.2" cy="329.6" r="2.1" fill="#111"/>
<line x1="446.3" y1="308.8" x2="446.3" y2="321.3" stroke="#111" stroke-width="1.3"/>
<line x1="444.3" y1="308.8" x2="448.3" y2="308.8" stroke="#111" stroke-width="1.3"/>
<line x1="444.3" y1="321.3" x2="448.3" y2="321.3" stroke="#111" stroke-width="1.3"/>
<circle cx="446.3" cy="315.6" r="2.1" fill="#111"/>
<line x1="459.4" y1="322" x2="459.4" y2="329" stroke="#111" stroke-width="1.3"/>
<line x1="457.4" y1="322" x2="461.4" y2="322" stroke="#111" stroke-width="1.3"/>
<line x1="457.4" y1="329" x2="461.4" y2="329" stroke="#111" stroke-width="1.3"/>
<circle cx="459.4" cy="326.2" r="2.1" fill="#111"/>
<line x1="471.3" y1="323.8" x2="471.3" y2="331" stroke="#111" stroke-width="1.3"/>
<line x1="469.3" y1="323.8" x2="473.3" y2="323.8" stroke="#111" stroke-width="1.3"/>
<line x1="469.3" y1="331" x2="473.3" y2="331" stroke="#111" stroke-width="1.3"/>
<circle cx="471.3" cy="327.1" r="2.1" fill="#111"/>
<line x1="483.5" y1="328.5" x2="483.5" y2="331" stroke="#111" stroke-width="1.3"/>
<line x1="481.5" y1="328.5" x2="485.5" y2="328.5" stroke="#111" stroke-width="1.3"/>
<line x1="481.5" y1="331" x2="485.5" y2="331" stroke="#111" stroke-width="1.3"/>
<circle cx="483.5" cy="329.6" r="2.1" fill="#111"/>
<line x1="495.8" y1="319.4" x2="495.8" y2="329" stroke="#111" stroke-width="1.3"/>
<line x1="493.8" y1="319.4" x2="497.8" y2="319.4" stroke="#111" stroke-width="1.3"/>
<line x1="493.8" y1="329" x2="497.8" y2="329" stroke="#111" stroke-width="1.3"/>
<circle cx="495.8" cy="324.2" r="2.1" fill="#111"/>
<rect x="33" y="646.5" width="3" height="1" fill="#111"/>
<rect x="36" y="632.32" width="4" height="15.18" fill="#111"/>
<rect x="37" y="633.32" width="2" height="14.18" fill="#fff"/>
<rect x="40" y="626.25" width="4" height="21.25" fill="#111"/>
<rect x="41" y="627.25" width="2" height="20.25" fill="#fff"/>
<rect x="44" y="632.32" width="3" height="15.18" fill="#111"/>
<rect x="45" y="633.32" width="1" height="14.18" fill="#fff"/>
<rect x="47" y="625.42" width="3" height="22.08" fill="#111"/>
<rect x="48" y="626.42" width="1" height="21.08" fill="#fff"/>
<rect x="50" y="642.81" width="4" height="4.69" fill="#111"/>
<rect x="51" y="643.81" width="2" height="3.69" fill="#fff"/>
<rect x="54" y="604.72" width="4" height="42.78" fill="#111"/>
<rect x="55" y="605.72" width="2" height="41.78" fill="#fff"/>
<rect x="58" y="644.74" width="3" height="2.76" fill="#111"/>
<rect x="59" y="645.74" width="1" height="1.76" fill="#fff"/>
<rect x="63" y="473.62" width="3" height="173.88" fill="#111"/>
<rect x="64" y="474.62" width="1" height="172.88" fill="#fff"/>
<rect x="66" y="553.66" width="4" height="93.84" fill="#111"/>
<rect x="67" y="554.66" width="2" height="92.84" fill="#fff"/>
<rect x="70" y="564.7" width="3" height="82.8" fill="#111"/>
<rect x="71" y="565.7" width="1" height="81.8" fill="#fff"/>
<rect x="73" y="572.98" width="4" height="74.52" fill="#111"/>
<rect x="74" y="573.98" width="2" height="73.52" fill="#fff"/>
<rect x="77" y="578.5" width="3" height="69" fill="#111"/>
<rect x="78" y="579.5" width="1" height="68" fill="#fff"/>
<rect x="80" y="559.18" width="4" height="88.32" fill="#111"/>
<rect x="81" y="560.18" width="2" height="87.32" fill="#fff"/>
<rect x="84" y="553.66" width="3" height="93.84" fill="#111"/>
<rect x="85" y="554.66" width="1" height="92.84" fill="#fff"/>
<rect x="87" y="523.3" width="3" height="124.2" fill="#111"/>
<rect x="88" y="524.3" width="1" height="123.2" fill="#fff"/>
<rect x="92" y="646.5" width="4" height="1" fill="#111"/>
<rect x="96" y="637.29" width="3" height="10.21" fill="#111"/>
<rect x="97" y="638.29" width="1" height="9.21" fill="#fff"/>
<rect x="99" y="621.83" width="3" height="25.67" fill="#111"/>
<rect x="100" y="622.83" width="1" height="24.67" fill="#fff"/>
<rect x="102" y="621.83" width="3" height="25.67" fill="#111"/>
<rect x="103" y="622.83" width="1" height="24.67" fill="#fff"/>
<rect x="105" y="614.38" width="3" height="33.12" fill="#111"/>
<rect x="106" y="615.38" width="1" height="32.12" fill="#fff"/>
<rect x="108" y="622.66" width="4" height="24.84" fill="#111"/>
<rect x="109" y="623.66" width="2" height="23.84" fill="#fff"/>
<rect x="112" y="636.46" width="3" height="11.04" fill="#111"/>
<rect x="113" y="637.46" width="1" height="10.04" fill="#fff"/>
<rect x="115" y="630.39" width="3" height="17.11" fill="#111"/>
<rect x="116" y="631.39" width="1" height="16.11" fill="#fff"/>
<rect x="118" y="641.98" width="3" height="5.52" fill="#111"/>
<rect x="119" y="642.98" width="1" height="4.52" fill="#fff"/>
<rect x="123" y="646.12" width="4" height="1.38" fill="#111"/>
<rect x="124" y="647.12" width="2" height="0.38" fill="#fff"/>
<rect x="127" y="635.91" width="4" height="11.59" fill="#111"/>
<rect x="128" y="636.91" width="2" height="10.59" fill="#fff"/>
<rect x="131" y="630.11" width="3" height="17.39" fill="#111"/>
<rect x="132" y="631.11" width="1" height="16.39" fill="#fff"/>
<rect x="134" y="635.91" width="4" height="11.59" fill="#111"/>
<rect x="135" y="636.91" width="2" height="10.59" fill="#fff"/>
<rect x="138" y="620.73" width="4" height="26.77" fill="#111"/>
<rect x="139" y="621.73" width="2" height="25.77" fill="#fff"/>
<rect x="142" y="620.73" width="4" height="26.77" fill="#111"/>
<rect x="143" y="621.73" width="2" height="25.77" fill="#fff"/>
<rect x="146" y="629.56" width="4" height="17.94" fill="#111"/>
<rect x="147" y="630.56" width="2" height="16.94" fill="#fff"/>
<rect x="152" y="646.12" width="3" height="1.38" fill="#111"/>
<rect x="153" y="647.12" width="1" height="0.38" fill="#fff"/>
<rect x="155" y="635.91" width="4" height="11.59" fill="#111"/>
<rect x="156" y="636.91" width="2" height="10.59" fill="#fff"/>
<rect x="159" y="639.77" width="3" height="7.73" fill="#111"/>
<rect x="160" y="640.77" width="1" height="6.73" fill="#fff"/>
<rect x="162" y="635.91" width="4" height="11.59" fill="#111"/>
<rect x="163" y="636.91" width="2" height="10.59" fill="#fff"/>
<rect x="166" y="632.32" width="3" height="15.18" fill="#111"/>
<rect x="167" y="633.32" width="1" height="14.18" fill="#fff"/>
<rect x="169" y="626.8" width="4" height="20.7" fill="#111"/>
<rect x="170" y="627.8" width="2" height="19.7" fill="#fff"/>
<rect x="173" y="639.22" width="3" height="8.28" fill="#111"/>
<rect x="174" y="640.22" width="1" height="7.28" fill="#fff"/>
<rect x="176" y="635.08" width="4" height="12.42" fill="#111"/>
<rect x="177" y="636.08" width="2" height="11.42" fill="#fff"/>
<rect x="181" y="646.12" width="4" height="1.38" fill="#111"/>
<rect x="182" y="647.12" width="2" height="0.38" fill="#fff"/>
<rect x="185" y="641.98" width="3" height="5.52" fill="#111"/>
<rect x="186" y="642.98" width="1" height="4.52" fill="#fff"/>
<rect x="188" y="641.43" width="4" height="6.07" fill="#111"/>
<rect x="189" y="642.43" width="2" height="5.07" fill="#fff"/>
<rect x="192" y="636.46" width="4" height="11.04" fill="#111"/>
<rect x="193" y="637.46" width="2" height="10.04" fill="#fff"/>
<rect x="196" y="639.22" width="4" height="8.28" fill="#111"/>
<rect x="197" y="640.22" width="2" height="7.28" fill="#fff"/>
<rect x="200" y="631.49" width="4" height="16.01" fill="#111"/>
<rect x="201" y="632.49" width="2" height="15.01" fill="#fff"/>
<rect x="204" y="639.22" width="3" height="8.28" fill="#111"/>
<rect x="205" y="640.22" width="1" height="7.28" fill="#fff"/>
<rect x="207" y="632.32" width="4" height="15.18" fill="#111"/>
<rect x="208" y="633.32" width="2" height="14.18" fill="#fff"/>
<rect x="212" y="646.12" width="4" height="1.38" fill="#111"/>
<rect x="213" y="647.12" width="2" height="0.38" fill="#fff"/>
<rect x="216" y="621.83" width="3" height="25.67" fill="#111"/>
<rect x="217" y="622.83" width="1" height="24.67" fill="#fff"/>
<rect x="219" y="617.42" width="4" height="30.08" fill="#111"/>
<rect x="220" y="618.42" width="2" height="29.08" fill="#fff"/>
<rect x="223" y="614.38" width="3" height="33.12" fill="#111"/>
<rect x="224" y="615.38" width="1" height="32.12" fill="#fff"/>
<rect x="226" y="617.14" width="4" height="30.36" fill="#111"/>
<rect x="227" y="618.14" width="2" height="29.36" fill="#fff"/>
<rect x="230" y="622.66" width="4" height="24.84" fill="#111"/>
<rect x="231" y="623.66" width="2" height="23.84" fill="#fff"/>
<rect x="234" y="628.18" width="3" height="19.32" fill="#111"/>
<rect x="235" y="629.18" width="1" height="18.32" fill="#fff"/>
<rect x="237" y="632.32" width="4" height="15.18" fill="#111"/>
<rect x="238" y="633.32" width="2" height="14.18" fill="#fff"/>
<line x1="32.5" y1="466.7" x2="32.5" y2="650.5" stroke="#111" stroke-width="1.6"/>
<line x1="31.7" y1="647.5" x2="242" y2="647.5" stroke="#111" stroke-width="1.5"/>
<line x1="61.5" y1="647.5" x2="61.5" y2="651" stroke="#111" stroke-width="1.3"/>
<line x1="92" y1="647.5" x2="92" y2="651" stroke="#111" stroke-width="1.3"/>
<line x1="122.5" y1="647.5" x2="122.5" y2="651" stroke="#111" stroke-width="1.3"/>
<line x1="151.8" y1="647.5" x2="151.8" y2="651" stroke="#111" stroke-width="1.3"/>
<line x1="180.5" y1="647.5" x2="180.5" y2="651" stroke="#111" stroke-width="1.3"/>
<line x1="211.8" y1="647.5" x2="211.8" y2="651" stroke="#111" stroke-width="1.3"/>
<line x1="241.8" y1="647.5" x2="241.8" y2="651" stroke="#111" stroke-width="1.3"/>
<line x1="29.5" y1="647.5" x2="32.5" y2="647.5" stroke="#111" stroke-width="1.3"/>
<text transform="translate(29.3,649.9) scale(1.25,1)" class="yt" text-anchor="end">0</text>
<line x1="29.5" y1="619.9" x2="32.5" y2="619.9" stroke="#111" stroke-width="1.3"/>
<text transform="translate(29.3,622.3) scale(1.25,1)" class="yt" text-anchor="end">1</text>
<line x1="29.5" y1="592.3" x2="32.5" y2="592.3" stroke="#111" stroke-width="1.3"/>
<text transform="translate(29.3,594.7) scale(1.25,1)" class="yt" text-anchor="end">2</text>
<line x1="29.5" y1="564.7" x2="32.5" y2="564.7" stroke="#111" stroke-width="1.3"/>
<text transform="translate(29.3,567.1) scale(1.25,1)" class="yt" text-anchor="end">3</text>
<line x1="29.5" y1="537.1" x2="32.5" y2="537.1" stroke="#111" stroke-width="1.3"/>
<text transform="translate(29.3,539.5) scale(1.25,1)" class="yt" text-anchor="end">4</text>
<line x1="29.5" y1="509.5" x2="32.5" y2="509.5" stroke="#111" stroke-width="1.3"/>
<text transform="translate(29.3,511.9) scale(1.25,1)" class="yt" text-anchor="end">5</text>
<line x1="29.5" y1="481.9" x2="32.5" y2="481.9" stroke="#111" stroke-width="1.3"/>
<text transform="translate(29.3,484.3) scale(1.25,1)" class="yt" text-anchor="end">6</text>
<text x="47.1" y="669.3" class="xl" text-anchor="middle" textLength="24.2" lengthAdjust="spacingAndGlyphs">GMP</text>
<text x="76.9" y="669.3" class="xl" text-anchor="middle" textLength="23.8" lengthAdjust="spacingAndGlyphs">MEP</text>
<text x="107.85" y="669.3" class="xl" text-anchor="middle" textLength="24.3" lengthAdjust="spacingAndGlyphs">CMP</text>
<text x="138" y="669.3" class="xl" text-anchor="middle" textLength="22.5" lengthAdjust="spacingAndGlyphs">HSC</text>
<text x="167" y="669.3" class="xl" text-anchor="middle" textLength="22" lengthAdjust="spacingAndGlyphs">CLP</text>
<text x="199" y="669.3" class="xl" text-anchor="middle" textLength="28" lengthAdjust="spacingAndGlyphs">pro-B</text>
<text x="227.75" y="669.3" class="xl" text-anchor="middle" textLength="25.5" lengthAdjust="spacingAndGlyphs">pro-T</text>
<rect x="157.3" y="467.3" width="86" height="92.7" fill="#fff" stroke="#111" stroke-width="1.6"/>
<polyline fill="none" stroke="#111" stroke-width="1.7" stroke-linejoin="miter" points="163.5,550.4 175.6,504.6 187.9,548.8 200,550.8 211.9,554.2 224.6,554.8 236.9,548"/>
<line x1="163.5" y1="543.7" x2="163.5" y2="559" stroke="#111" stroke-width="1.3"/>
<line x1="161.5" y1="543.7" x2="165.5" y2="543.7" stroke="#111" stroke-width="1.3"/>
<line x1="161.5" y1="559" x2="165.5" y2="559" stroke="#111" stroke-width="1.3"/>
<circle cx="163.5" cy="550.4" r="2.1" fill="#111"/>
<line x1="175.6" y1="485" x2="175.6" y2="523" stroke="#111" stroke-width="1.3"/>
<line x1="173.6" y1="485" x2="177.6" y2="485" stroke="#111" stroke-width="1.3"/>
<line x1="173.6" y1="523" x2="177.6" y2="523" stroke="#111" stroke-width="1.3"/>
<circle cx="175.6" cy="504.6" r="2.1" fill="#111"/>
<line x1="187.9" y1="544.6" x2="187.9" y2="554.6" stroke="#111" stroke-width="1.3"/>
<line x1="185.9" y1="544.6" x2="189.9" y2="544.6" stroke="#111" stroke-width="1.3"/>
<line x1="185.9" y1="554.6" x2="189.9" y2="554.6" stroke="#111" stroke-width="1.3"/>
<circle cx="187.9" cy="548.8" r="2.1" fill="#111"/>
<line x1="200" y1="546" x2="200" y2="555.8" stroke="#111" stroke-width="1.3"/>
<line x1="198" y1="546" x2="202" y2="546" stroke="#111" stroke-width="1.3"/>
<line x1="198" y1="555.8" x2="202" y2="555.8" stroke="#111" stroke-width="1.3"/>
<circle cx="200" cy="550.8" r="2.1" fill="#111"/>
<line x1="211.9" y1="550.4" x2="211.9" y2="559" stroke="#111" stroke-width="1.3"/>
<line x1="209.9" y1="550.4" x2="213.9" y2="550.4" stroke="#111" stroke-width="1.3"/>
<line x1="209.9" y1="559" x2="213.9" y2="559" stroke="#111" stroke-width="1.3"/>
<circle cx="211.9" cy="554.2" r="2.1" fill="#111"/>
<line x1="224.6" y1="552" x2="224.6" y2="559" stroke="#111" stroke-width="1.3"/>
<line x1="222.6" y1="552" x2="226.6" y2="552" stroke="#111" stroke-width="1.3"/>
<line x1="222.6" y1="559" x2="226.6" y2="559" stroke="#111" stroke-width="1.3"/>
<circle cx="224.6" cy="554.8" r="2.1" fill="#111"/>
<line x1="236.9" y1="542.7" x2="236.9" y2="553.8" stroke="#111" stroke-width="1.3"/>
<line x1="234.9" y1="542.7" x2="238.9" y2="542.7" stroke="#111" stroke-width="1.3"/>
<line x1="234.9" y1="553.8" x2="238.9" y2="553.8" stroke="#111" stroke-width="1.3"/>
<circle cx="236.9" cy="548" r="2.1" fill="#111"/>
<rect x="296" y="638.8" width="4" height="1" fill="#111"/>
<rect x="300" y="619.85" width="3" height="19.95" fill="#111"/>
<rect x="301" y="620.85" width="1" height="18.95" fill="#fff"/>
<rect x="303" y="633.95" width="3" height="5.85" fill="#111"/>
<rect x="304" y="634.95" width="1" height="4.85" fill="#fff"/>
<rect x="306" y="605.4" width="4" height="34.4" fill="#111"/>
<rect x="307" y="606.4" width="2" height="33.4" fill="#fff"/>
<rect x="310" y="620.88" width="4" height="18.92" fill="#111"/>
<rect x="311" y="621.88" width="2" height="17.92" fill="#fff"/>
<rect x="314" y="634.64" width="3" height="5.16" fill="#111"/>
<rect x="315" y="635.64" width="1" height="4.16" fill="#fff"/>
<rect x="317" y="632.92" width="3" height="6.88" fill="#111"/>
<rect x="318" y="633.92" width="1" height="5.88" fill="#fff"/>
<rect x="320" y="630.17" width="4" height="9.63" fill="#111"/>
<rect x="321" y="631.17" width="2" height="8.63" fill="#fff"/>
<rect x="326" y="638.8" width="4" height="1" fill="#111"/>
<rect x="330" y="624.32" width="3" height="15.48" fill="#111"/>
<rect x="331" y="625.32" width="1" height="14.48" fill="#fff"/>
<rect x="333" y="628.79" width="3" height="11.01" fill="#111"/>
<rect x="334" y="629.79" width="1" height="10.01" fill="#fff"/>
<rect x="336" y="623.29" width="4" height="16.51" fill="#111"/>
<rect x="337" y="624.29" width="2" height="15.51" fill="#fff"/>
<rect x="340" y="635.67" width="4" height="4.13" fill="#111"/>
<rect x="341" y="636.67" width="2" height="3.13" fill="#fff"/>
<rect x="344" y="633.95" width="3" height="5.85" fill="#111"/>
<rect x="345" y="634.95" width="1" height="4.85" fill="#fff"/>
<rect x="347" y="633.26" width="3" height="6.54" fill="#111"/>
<rect x="348" y="634.26" width="1" height="5.54" fill="#fff"/>
<rect x="350" y="637.74" width="4" height="2.06" fill="#111"/>
<rect x="351" y="638.74" width="2" height="1.06" fill="#fff"/>
<rect x="356" y="638.8" width="4" height="1" fill="#111"/>
<rect x="360" y="623.98" width="3" height="15.82" fill="#111"/>
<rect x="361" y="624.98" width="1" height="14.82" fill="#fff"/>
<rect x="363" y="633.95" width="4" height="5.85" fill="#111"/>
<rect x="364" y="634.95" width="2" height="4.85" fill="#fff"/>
<rect x="367" y="611.59" width="3" height="28.21" fill="#111"/>
<rect x="368" y="612.59" width="1" height="27.21" fill="#fff"/>
<rect x="370" y="638.08" width="4" height="1.72" fill="#111"/>
<rect x="371" y="639.08" width="2" height="0.72" fill="#fff"/>
<rect x="374" y="633.95" width="3" height="5.85" fill="#111"/>
<rect x="375" y="634.95" width="1" height="4.85" fill="#fff"/>
<rect x="377" y="632.92" width="4" height="6.88" fill="#111"/>
<rect x="378" y="633.92" width="2" height="5.88" fill="#fff"/>
<rect x="381" y="632.92" width="3" height="6.88" fill="#111"/>
<rect x="382" y="633.92" width="1" height="5.88" fill="#fff"/>
<rect x="386" y="638.8" width="4" height="1" fill="#111"/>
<rect x="390" y="610.9" width="3" height="28.9" fill="#111"/>
<rect x="391" y="611.9" width="1" height="27.9" fill="#fff"/>
<rect x="393" y="625.01" width="4" height="14.79" fill="#111"/>
<rect x="394" y="626.01" width="2" height="13.79" fill="#fff"/>
<rect x="397" y="624.32" width="3" height="15.48" fill="#111"/>
<rect x="398" y="625.32" width="1" height="14.48" fill="#fff"/>
<rect x="400" y="588.89" width="4" height="50.91" fill="#111"/>
<rect x="401" y="589.89" width="2" height="49.91" fill="#fff"/>
<rect x="404" y="628.45" width="4" height="11.35" fill="#111"/>
<rect x="405" y="629.45" width="2" height="10.35" fill="#fff"/>
<rect x="408" y="627.76" width="3" height="12.04" fill="#111"/>
<rect x="409" y="628.76" width="1" height="11.04" fill="#fff"/>
<rect x="411" y="605.74" width="4" height="34.06" fill="#111"/>
<rect x="412" y="606.74" width="2" height="33.06" fill="#fff"/>
<rect x="418" y="627.42" width="3" height="12.38" fill="#111"/>
<rect x="419" y="628.42" width="1" height="11.38" fill="#fff"/>
<rect x="421" y="615.03" width="4" height="24.77" fill="#111"/>
<rect x="422" y="616.03" width="2" height="23.77" fill="#fff"/>
<rect x="425" y="629.48" width="3" height="10.32" fill="#111"/>
<rect x="426" y="630.48" width="1" height="9.32" fill="#fff"/>
<rect x="428" y="627.42" width="4" height="12.38" fill="#111"/>
<rect x="429" y="628.42" width="2" height="11.38" fill="#fff"/>
<rect x="432" y="607.12" width="3" height="32.68" fill="#111"/>
<rect x="433" y="608.12" width="1" height="31.68" fill="#fff"/>
<rect x="435" y="590.61" width="3" height="49.19" fill="#111"/>
<rect x="436" y="591.61" width="1" height="48.19" fill="#fff"/>
<rect x="438" y="612.97" width="4" height="26.83" fill="#111"/>
<rect x="439" y="613.97" width="2" height="25.83" fill="#fff"/>
<rect x="442" y="608.5" width="3" height="31.3" fill="#111"/>
<rect x="443" y="609.5" width="1" height="30.3" fill="#fff"/>
<rect x="450" y="490.5" width="3" height="149.3" fill="#111"/>
<rect x="451" y="491.5" width="1" height="148.3" fill="#fff"/>
<rect x="453" y="542.79" width="3" height="97.01" fill="#111"/>
<rect x="454" y="543.79" width="1" height="96.01" fill="#fff"/>
<rect x="456" y="480.87" width="4" height="158.93" fill="#111"/>
<rect x="457" y="481.87" width="2" height="157.93" fill="#fff"/>
<rect x="460" y="524.9" width="3" height="114.9" fill="#111"/>
<rect x="461" y="525.9" width="1" height="113.9" fill="#fff"/>
<rect x="463" y="532.13" width="4" height="107.67" fill="#111"/>
<rect x="464" y="533.13" width="2" height="106.67" fill="#fff"/>
<rect x="467" y="510.8" width="3" height="129" fill="#111"/>
<rect x="468" y="511.8" width="1" height="128" fill="#fff"/>
<rect x="470" y="492.57" width="3" height="147.23" fill="#111"/>
<rect x="471" y="493.57" width="1" height="146.23" fill="#fff"/>
<rect x="473" y="500.48" width="4" height="139.32" fill="#111"/>
<rect x="474" y="501.48" width="2" height="138.32" fill="#fff"/>
<rect x="480" y="567.22" width="3" height="72.58" fill="#111"/>
<rect x="481" y="568.22" width="1" height="71.58" fill="#fff"/>
<rect x="483" y="604.02" width="3" height="35.78" fill="#111"/>
<rect x="484" y="605.02" width="1" height="34.78" fill="#fff"/>
<rect x="486" y="607.81" width="4" height="31.99" fill="#111"/>
<rect x="487" y="608.81" width="2" height="30.99" fill="#fff"/>
<rect x="490" y="622.94" width="3" height="16.86" fill="#111"/>
<rect x="491" y="623.94" width="1" height="15.86" fill="#fff"/>
<rect x="493" y="620.54" width="3" height="19.26" fill="#111"/>
<rect x="494" y="621.54" width="1" height="18.26" fill="#fff"/>
<rect x="496" y="609.87" width="3" height="29.93" fill="#111"/>
<rect x="497" y="610.87" width="1" height="28.93" fill="#fff"/>
<rect x="499" y="606.78" width="3" height="33.02" fill="#111"/>
<rect x="500" y="607.78" width="1" height="32.02" fill="#fff"/>
<rect x="502" y="626.38" width="4" height="13.42" fill="#111"/>
<rect x="503" y="627.38" width="2" height="12.42" fill="#fff"/>
<line x1="295" y1="467.5" x2="295" y2="642.8" stroke="#111" stroke-width="1.6"/>
<line x1="294.2" y1="639.8" x2="509" y2="639.8" stroke="#111" stroke-width="1.5"/>
<line x1="292" y1="468.1" x2="295" y2="468.1" stroke="#111" stroke-width="1.3"/>
<line x1="325.2" y1="639.8" x2="325.2" y2="643.3" stroke="#111" stroke-width="1.3"/>
<line x1="355" y1="639.8" x2="355" y2="643.3" stroke="#111" stroke-width="1.3"/>
<line x1="385.6" y1="639.8" x2="385.6" y2="643.3" stroke="#111" stroke-width="1.3"/>
<line x1="417.3" y1="639.8" x2="417.3" y2="643.3" stroke="#111" stroke-width="1.3"/>
<line x1="446.7" y1="639.8" x2="446.7" y2="643.3" stroke="#111" stroke-width="1.3"/>
<line x1="477.3" y1="639.8" x2="477.3" y2="643.3" stroke="#111" stroke-width="1.3"/>
<line x1="508.9" y1="639.8" x2="508.9" y2="643.3" stroke="#111" stroke-width="1.3"/>
<line x1="291.5" y1="639.8" x2="295" y2="639.8" stroke="#111" stroke-width="1.3"/>
<text transform="translate(287.9,641.8) scale(1.35,1)" class="yt" text-anchor="end">0</text>
<line x1="291.5" y1="605.4" x2="295" y2="605.4" stroke="#111" stroke-width="1.3"/>
<text transform="translate(287.9,607.4) scale(1.35,1)" class="yt" text-anchor="end">1</text>
<line x1="291.5" y1="571" x2="295" y2="571" stroke="#111" stroke-width="1.3"/>
<text transform="translate(287.9,573) scale(1.35,1)" class="yt" text-anchor="end">2</text>
<line x1="291.5" y1="536.6" x2="295" y2="536.6" stroke="#111" stroke-width="1.3"/>
<text transform="translate(287.9,538.6) scale(1.35,1)" class="yt" text-anchor="end">3</text>
<line x1="291.5" y1="502.2" x2="295" y2="502.2" stroke="#111" stroke-width="1.3"/>
<text transform="translate(287.9,504.2) scale(1.35,1)" class="yt" text-anchor="end">4</text>
<text x="310.5" y="661.2" class="xl" text-anchor="middle" textLength="24.4" lengthAdjust="spacingAndGlyphs">GMP</text>
<text x="341.65" y="661.2" class="xl" text-anchor="middle" textLength="24.1" lengthAdjust="spacingAndGlyphs">MEP</text>
<text x="372.5" y="661.2" class="xl" text-anchor="middle" textLength="25" lengthAdjust="spacingAndGlyphs">CMP</text>
<text x="402.85" y="661.2" class="xl" text-anchor="middle" textLength="23.1" lengthAdjust="spacingAndGlyphs">HSC</text>
<text x="432.65" y="661.2" class="xl" text-anchor="middle" textLength="21.3" lengthAdjust="spacingAndGlyphs">CLP</text>
<text x="464.75" y="661.2" class="xl" text-anchor="middle" textLength="27.7" lengthAdjust="spacingAndGlyphs">pro-B</text>
<text x="494.5" y="661.2" class="xl" text-anchor="middle" textLength="26.6" lengthAdjust="spacingAndGlyphs">pro-T</text>
<rect x="303.8" y="468.7" width="88.8" height="93.3" fill="#fff" stroke="#111" stroke-width="1.6"/>
<polyline fill="none" stroke="#111" stroke-width="1.7" stroke-linejoin="miter" points="309.9,554.3 322.6,557.6 335.1,557.2 347.6,550.5 359.9,547.6 373.6,491.2 385.5,544.7"/>
<line x1="309.9" y1="549" x2="309.9" y2="561" stroke="#111" stroke-width="1.3"/>
<line x1="307.9" y1="549" x2="311.9" y2="549" stroke="#111" stroke-width="1.3"/>
<line x1="307.9" y1="561" x2="311.9" y2="561" stroke="#111" stroke-width="1.3"/>
<circle cx="309.9" cy="554.3" r="2.1" fill="#111"/>
<line x1="322.6" y1="554" x2="322.6" y2="561.6" stroke="#111" stroke-width="1.3"/>
<line x1="320.6" y1="554" x2="324.6" y2="554" stroke="#111" stroke-width="1.3"/>
<line x1="320.6" y1="561.6" x2="324.6" y2="561.6" stroke="#111" stroke-width="1.3"/>
<circle cx="322.6" cy="557.6" r="2.1" fill="#111"/>
<line x1="335.1" y1="552.4" x2="335.1" y2="561.6" stroke="#111" stroke-width="1.3"/>
<line x1="333.1" y1="552.4" x2="337.1" y2="552.4" stroke="#111" stroke-width="1.3"/>
<line x1="333.1" y1="561.6" x2="337.1" y2="561.6" stroke="#111" stroke-width="1.3"/>
<circle cx="335.1" cy="557.2" r="2.1" fill="#111"/>
<line x1="347.6" y1="541.2" x2="347.6" y2="557.8" stroke="#111" stroke-width="1.3"/>
<line x1="345.6" y1="541.2" x2="349.6" y2="541.2" stroke="#111" stroke-width="1.3"/>
<line x1="345.6" y1="557.8" x2="349.6" y2="557.8" stroke="#111" stroke-width="1.3"/>
<circle cx="347.6" cy="550.5" r="2.1" fill="#111"/>
<line x1="359.9" y1="541.2" x2="359.9" y2="555.3" stroke="#111" stroke-width="1.3"/>
<line x1="357.9" y1="541.2" x2="361.9" y2="541.2" stroke="#111" stroke-width="1.3"/>
<line x1="357.9" y1="555.3" x2="361.9" y2="555.3" stroke="#111" stroke-width="1.3"/>
<circle cx="359.9" cy="547.6" r="2.1" fill="#111"/>
<line x1="373.6" y1="479.3" x2="373.6" y2="501.4" stroke="#111" stroke-width="1.3"/>
<line x1="371.6" y1="479.3" x2="375.6" y2="479.3" stroke="#111" stroke-width="1.3"/>
<line x1="371.6" y1="501.4" x2="375.6" y2="501.4" stroke="#111" stroke-width="1.3"/>
<circle cx="373.6" cy="491.2" r="2.1" fill="#111"/>
<line x1="385.5" y1="535.1" x2="385.5" y2="555.3" stroke="#111" stroke-width="1.3"/>
<line x1="383.5" y1="535.1" x2="387.5" y2="535.1" stroke="#111" stroke-width="1.3"/>
<line x1="383.5" y1="555.3" x2="387.5" y2="555.3" stroke="#111" stroke-width="1.3"/>
<circle cx="385.5" cy="544.7" r="2.1" fill="#111"/>
<rect x="32" y="857.94" width="3" height="5.06" fill="#111"/>
<rect x="32.8" y="858.74" width="1.4" height="4.26" fill="#151515"/>
<rect x="35" y="861.74" width="3" height="1.26" fill="#111"/>
<rect x="35.8" y="862.53" width="1.4" height="0.46" fill="#9a9a9a"/>
<rect x="38" y="853.39" width="3" height="9.61" fill="#111"/>
<rect x="38.8" y="854.19" width="1.4" height="8.81" fill="#151515"/>
<rect x="41" y="859.21" width="3" height="3.79" fill="#111"/>
<rect x="41.8" y="860" width="1.4" height="2.99" fill="#9a9a9a"/>
<rect x="44" y="847.82" width="4" height="15.18" fill="#111"/>
<rect x="44.8" y="848.62" width="2.4" height="14.38" fill="#d0d0d0"/>
<rect x="48" y="846.55" width="3" height="16.45" fill="#111"/>
<rect x="48.8" y="847.35" width="1.4" height="15.65" fill="#d0d0d0"/>
<rect x="51" y="857.94" width="2" height="5.06" fill="#111"/>
<rect x="51.8" y="858.74" width="0.4" height="4.26" fill="#9a9a9a"/>
<rect x="53" y="846.55" width="4" height="16.45" fill="#111"/>
<rect x="53.8" y="847.35" width="2.4" height="15.65" fill="#fff"/>
<rect x="61" y="857.94" width="3" height="5.06" fill="#111"/>
<rect x="61.8" y="858.74" width="1.4" height="4.26" fill="#9a9a9a"/>
<rect x="64" y="857.94" width="3" height="5.06" fill="#111"/>
<rect x="64.8" y="858.74" width="1.4" height="4.26" fill="#9a9a9a"/>
<rect x="67" y="853.39" width="3" height="9.61" fill="#111"/>
<rect x="67.8" y="854.19" width="1.4" height="8.81" fill="#151515"/>
<rect x="70" y="859.21" width="2" height="3.79" fill="#111"/>
<rect x="70.8" y="860" width="0.4" height="2.99" fill="#9a9a9a"/>
<rect x="73" y="847.82" width="3" height="15.18" fill="#111"/>
<rect x="73.8" y="848.62" width="1.4" height="14.38" fill="#d0d0d0"/>
<rect x="76" y="846.55" width="2" height="16.45" fill="#111"/>
<rect x="76.8" y="847.35" width="0.4" height="15.65" fill="#151515"/>
<rect x="78" y="856.67" width="2" height="6.33" fill="#111"/>
<rect x="78.8" y="857.47" width="0.4" height="5.53" fill="#9a9a9a"/>
<rect x="81" y="846.55" width="5" height="16.45" fill="#111"/>
<rect x="81.8" y="847.35" width="3.4" height="15.65" fill="#fff"/>
<rect x="91" y="861.74" width="2" height="1.26" fill="#111"/>
<rect x="91.8" y="862.53" width="0.4" height="0.46" fill="#9a9a9a"/>
<rect x="93" y="852.88" width="2" height="10.12" fill="#111"/>
<rect x="93.8" y="853.68" width="0.4" height="9.32" fill="#151515"/>
<rect x="95" y="850.35" width="3" height="12.65" fill="#111"/>
<rect x="95.8" y="851.15" width="1.4" height="11.85" fill="#151515"/>
<rect x="98" y="854.14" width="2" height="8.86" fill="#111"/>
<rect x="98.8" y="854.94" width="0.4" height="8.06" fill="#9a9a9a"/>
<rect x="100" y="840.74" width="3" height="22.26" fill="#111"/>
<rect x="100.8" y="841.54" width="1.4" height="21.46" fill="#151515"/>
<rect x="103" y="833.9" width="3" height="29.1" fill="#111"/>
<rect x="103.8" y="834.7" width="1.4" height="28.3" fill="#9a9a9a"/>
<rect x="106" y="844.02" width="3" height="18.98" fill="#111"/>
<rect x="106.8" y="844.82" width="1.4" height="18.18" fill="#9a9a9a"/>
<rect x="109" y="854.14" width="3" height="8.86" fill="#111"/>
<rect x="109.8" y="854.94" width="1.4" height="8.06" fill="#9a9a9a"/>
<rect x="112" y="847.82" width="3" height="15.18" fill="#111"/>
<rect x="112.8" y="848.62" width="1.4" height="14.38" fill="#9a9a9a"/>
<rect x="115" y="856.67" width="3" height="6.33" fill="#111"/>
<rect x="115.8" y="857.47" width="1.4" height="5.53" fill="#9a9a9a"/>
<rect x="119.2" y="842" width="3.5" height="21" fill="#111"/>
<rect x="120" y="842.8" width="1.9" height="20.2" fill="#9a9a9a"/>
<rect x="122.7" y="827.58" width="2.9" height="35.42" fill="#111"/>
<rect x="123.5" y="828.38" width="1.3" height="34.62" fill="#9a9a9a"/>
<rect x="125.6" y="830.87" width="2.9" height="32.13" fill="#111"/>
<rect x="126.4" y="831.67" width="1.3" height="31.33" fill="#9a9a9a"/>
<rect x="128.5" y="840.99" width="2.3" height="22.01" fill="#111"/>
<rect x="129.3" y="841.79" width="0.7" height="21.21" fill="#151515"/>
<rect x="130.8" y="834.92" width="2.9" height="28.08" fill="#111"/>
<rect x="131.6" y="835.72" width="1.3" height="27.28" fill="#151515"/>
<rect x="133.7" y="846.81" width="1.5" height="16.19" fill="#111"/>
<rect x="135.2" y="846.81" width="2.5" height="16.19" fill="#111"/>
<rect x="136" y="847.61" width="0.9" height="15.39" fill="#9a9a9a"/>
<rect x="137.7" y="845.29" width="2.3" height="17.71" fill="#111"/>
<rect x="138.5" y="846.09" width="0.7" height="16.91" fill="#9a9a9a"/>
<rect x="140" y="828.09" width="3.5" height="34.91" fill="#111"/>
<rect x="140.8" y="828.89" width="1.9" height="34.11" fill="#9a9a9a"/>
<rect x="143.5" y="837.19" width="2.3" height="25.81" fill="#111"/>
<rect x="144.3" y="837.99" width="0.7" height="25.01" fill="#151515"/>
<rect x="145.8" y="834.41" width="3.2" height="28.59" fill="#111"/>
<rect x="146.6" y="835.21" width="1.6" height="27.79" fill="#9a9a9a"/>
<rect x="150.2" y="825.3" width="2.8" height="37.7" fill="#111"/>
<rect x="151" y="826.1" width="1.2" height="36.9" fill="#151515"/>
<rect x="153" y="835.17" width="2.8" height="27.83" fill="#111"/>
<rect x="153.8" y="835.97" width="1.2" height="27.03" fill="#fff"/>
<rect x="155.8" y="837.19" width="1.9" height="25.81" fill="#111"/>
<rect x="156.6" y="837.99" width="0.3" height="25.01" fill="#151515"/>
<rect x="157.7" y="830.11" width="2.7" height="32.89" fill="#111"/>
<rect x="158.5" y="830.91" width="1.1" height="32.09" fill="#9a9a9a"/>
<rect x="160.4" y="816.95" width="3.1" height="46.05" fill="#111"/>
<rect x="161.2" y="817.75" width="1.5" height="45.25" fill="#9a9a9a"/>
<rect x="163.5" y="844.02" width="1.9" height="18.98" fill="#111"/>
<rect x="164.3" y="844.82" width="0.3" height="18.18" fill="#151515"/>
<rect x="165.4" y="840.99" width="3.1" height="22.01" fill="#111"/>
<rect x="166.2" y="841.79" width="1.5" height="21.21" fill="#9a9a9a"/>
<rect x="168.5" y="826.32" width="3" height="36.68" fill="#111"/>
<rect x="169.3" y="827.12" width="1.4" height="35.88" fill="#9a9a9a"/>
<rect x="171.5" y="835.17" width="2.2" height="27.83" fill="#111"/>
<rect x="172.3" y="835.97" width="0.6" height="27.03" fill="#151515"/>
<rect x="173.7" y="827.07" width="2.8" height="35.93" fill="#111"/>
<rect x="174.5" y="827.87" width="1.2" height="35.13" fill="#9a9a9a"/>
<rect x="176.5" y="835.17" width="2" height="27.83" fill="#111"/>
<rect x="177.3" y="835.97" width="0.4" height="27.03" fill="#151515"/>
<rect x="179.4" y="842" width="2.9" height="21" fill="#111"/>
<rect x="180.2" y="842.8" width="1.3" height="20.2" fill="#9a9a9a"/>
<rect x="182.3" y="856.42" width="1.9" height="6.58" fill="#111"/>
<rect x="183.1" y="857.22" width="0.3" height="5.78" fill="#151515"/>
<rect x="184.2" y="851.36" width="2.9" height="11.64" fill="#111"/>
<rect x="185" y="852.16" width="1.3" height="10.84" fill="#9a9a9a"/>
<rect x="187.1" y="856.42" width="1.9" height="6.58" fill="#111"/>
<rect x="187.9" y="857.22" width="0.3" height="5.78" fill="#151515"/>
<rect x="189" y="860.47" width="2" height="2.53" fill="#111"/>
<rect x="189.8" y="861.27" width="0.4" height="1.73" fill="#9a9a9a"/>
<rect x="191" y="847.31" width="3.2" height="15.69" fill="#111"/>
<rect x="191.8" y="848.11" width="1.6" height="14.89" fill="#9a9a9a"/>
<rect x="194.2" y="855.16" width="1.3" height="7.84" fill="#111"/>
<rect x="195.5" y="856.42" width="3.7" height="6.58" fill="#111"/>
<rect x="196.3" y="857.22" width="2.1" height="5.78" fill="#9a9a9a"/>
<rect x="199.2" y="845.8" width="2.7" height="17.2" fill="#111"/>
<rect x="200" y="846.6" width="1.1" height="16.4" fill="#9a9a9a"/>
<rect x="201.9" y="854.14" width="1.9" height="8.86" fill="#111"/>
<rect x="202.7" y="854.94" width="0.3" height="8.06" fill="#151515"/>
<rect x="203.8" y="833.9" width="2.5" height="29.1" fill="#111"/>
<rect x="204.6" y="834.7" width="0.9" height="28.3" fill="#151515"/>
<rect x="206.3" y="839.98" width="2.4" height="23.02" fill="#111"/>
<rect x="207.1" y="840.78" width="0.8" height="22.22" fill="#9a9a9a"/>
<rect x="209" y="769.9" width="1.3" height="93.1" fill="#111"/>
<rect x="210.3" y="759.78" width="2.7" height="103.22" fill="#111"/>
<rect x="211.1" y="760.58" width="1.1" height="102.42" fill="#9a9a9a"/>
<rect x="213" y="758.51" width="2.9" height="104.49" fill="#111"/>
<rect x="213.8" y="759.31" width="1.3" height="103.69" fill="#9a9a9a"/>
<rect x="215.9" y="699.06" width="2.7" height="163.94" fill="#111"/>
<rect x="216.7" y="699.86" width="1.1" height="163.14" fill="#9a9a9a"/>
<rect x="218.6" y="770.91" width="1.6" height="92.09" fill="#111"/>
<rect x="220.2" y="766.35" width="2.9" height="96.65" fill="#111"/>
<rect x="221" y="767.15" width="1.3" height="95.85" fill="#9a9a9a"/>
<rect x="223.1" y="788.87" width="1.1" height="74.13" fill="#111"/>
<rect x="224.2" y="760.03" width="2.3" height="102.97" fill="#111"/>
<rect x="225" y="760.83" width="0.7" height="102.17" fill="#9a9a9a"/>
<rect x="226.5" y="754.21" width="2.7" height="108.79" fill="#111"/>
<rect x="227.3" y="755.01" width="1.1" height="107.99" fill="#151515"/>
<rect x="229.2" y="777.49" width="1.8" height="85.51" fill="#111"/>
<rect x="230" y="778.29" width="0.2" height="84.71" fill="#9a9a9a"/>
<rect x="231" y="784.32" width="2.2" height="78.68" fill="#111"/>
<rect x="231.8" y="785.12" width="0.6" height="77.88" fill="#151515"/>
<rect x="233.2" y="768.12" width="3.4" height="94.88" fill="#111"/>
<rect x="234" y="768.92" width="1.8" height="94.08" fill="#9a9a9a"/>
<rect x="236.6" y="781.03" width="1.1" height="81.97" fill="#111"/>
<line x1="31" y1="686.7" x2="31" y2="866" stroke="#111" stroke-width="1.6"/>
<line x1="30.2" y1="863" x2="238" y2="863" stroke="#111" stroke-width="1.5"/>
<line x1="28" y1="687.3" x2="31" y2="687.3" stroke="#111" stroke-width="1.3"/>
<line x1="59.2" y1="863" x2="59.2" y2="866.5" stroke="#111" stroke-width="1.3"/>
<line x1="90.4" y1="863" x2="90.4" y2="866.5" stroke="#111" stroke-width="1.3"/>
<line x1="119.5" y1="863" x2="119.5" y2="866.5" stroke="#111" stroke-width="1.3"/>
<line x1="149.6" y1="863" x2="149.6" y2="866.5" stroke="#111" stroke-width="1.3"/>
<line x1="178.5" y1="863" x2="178.5" y2="866.5" stroke="#111" stroke-width="1.3"/>
<line x1="208.8" y1="863" x2="208.8" y2="866.5" stroke="#111" stroke-width="1.3"/>
<line x1="237.7" y1="863" x2="237.7" y2="866.5" stroke="#111" stroke-width="1.3"/>
<line x1="28" y1="863" x2="31" y2="863" stroke="#111" stroke-width="1.3"/>
<text transform="translate(27.9,865.5) scale(1.35,1)" class="yt" text-anchor="end">0</text>
<line x1="28" y1="837.7" x2="31" y2="837.7" stroke="#111" stroke-width="1.3"/>
<text transform="translate(27.9,840.2) scale(1.35,1)" class="yt" text-anchor="end">1</text>
<line x1="28" y1="812.4" x2="31" y2="812.4" stroke="#111" stroke-width="1.3"/>
<text transform="translate(27.9,814.9) scale(1.35,1)" class="yt" text-anchor="end">2</text>
<line x1="28" y1="787.1" x2="31" y2="787.1" stroke="#111" stroke-width="1.3"/>
<text transform="translate(27.9,789.6) scale(1.35,1)" class="yt" text-anchor="end">3</text>
<line x1="28" y1="761.8" x2="31" y2="761.8" stroke="#111" stroke-width="1.3"/>
<text transform="translate(27.9,764.3) scale(1.35,1)" class="yt" text-anchor="end">4</text>
<line x1="28" y1="736.5" x2="31" y2="736.5" stroke="#111" stroke-width="1.3"/>
<text transform="translate(27.9,739) scale(1.35,1)" class="yt" text-anchor="end">5</text>
<line x1="28" y1="711.2" x2="31" y2="711.2" stroke="#111" stroke-width="1.3"/>
<text transform="translate(27.9,713.7) scale(1.35,1)" class="yt" text-anchor="end">6</text>
<text x="46.75" y="883.3" class="xl" text-anchor="middle" textLength="24.9" lengthAdjust="spacingAndGlyphs">GMP</text>
<text x="76.9" y="883.3" class="xl" text-anchor="middle" textLength="23.8" lengthAdjust="spacingAndGlyphs">MEP</text>
<text x="107.1" y="883.3" class="xl" text-anchor="middle" textLength="24.2" lengthAdjust="spacingAndGlyphs">CMP</text>
<text x="136.15" y="883.3" class="xl" text-anchor="middle" textLength="23.1" lengthAdjust="spacingAndGlyphs">HSC</text>
<text x="166.9" y="883.3" class="xl" text-anchor="middle" textLength="21.2" lengthAdjust="spacingAndGlyphs">CLP</text>
<text x="197" y="883.3" class="xl" text-anchor="middle" textLength="26.4" lengthAdjust="spacingAndGlyphs">pro-B</text>
<text x="227.55" y="883.3" class="xl" text-anchor="middle" textLength="22.5" lengthAdjust="spacingAndGlyphs">pro-T</text>
<rect x="39.8" y="688.1" width="84.6" height="92.3" fill="#fff" stroke="#111" stroke-width="1.6"/>
<polyline fill="none" stroke="#111" stroke-width="1.7" stroke-linejoin="miter" points="46.2,778.1 57.7,778.1 69.6,774.2 82.1,766.5 94.2,762.3 106.5,773.8 118.1,711.2"/>
<line x1="46.2" y1="773.3" x2="46.2" y2="781.9" stroke="#111" stroke-width="1.3"/>
<line x1="44.2" y1="773.3" x2="48.2" y2="773.3" stroke="#111" stroke-width="1.3"/>
<line x1="44.2" y1="781.9" x2="48.2" y2="781.9" stroke="#111" stroke-width="1.3"/>
<circle cx="46.2" cy="778.1" r="2.1" fill="#111"/>
<line x1="57.7" y1="773.3" x2="57.7" y2="781" stroke="#111" stroke-width="1.3"/>
<line x1="55.7" y1="773.3" x2="59.7" y2="773.3" stroke="#111" stroke-width="1.3"/>
<line x1="55.7" y1="781" x2="59.7" y2="781" stroke="#111" stroke-width="1.3"/>
<circle cx="57.7" cy="778.1" r="2.1" fill="#111"/>
<line x1="69.6" y1="768.1" x2="69.6" y2="781.9" stroke="#111" stroke-width="1.3"/>
<line x1="67.6" y1="768.1" x2="71.6" y2="768.1" stroke="#111" stroke-width="1.3"/>
<line x1="67.6" y1="781.9" x2="71.6" y2="781.9" stroke="#111" stroke-width="1.3"/>
<circle cx="69.6" cy="774.2" r="2.1" fill="#111"/>
<line x1="82.1" y1="759.2" x2="82.1" y2="773.8" stroke="#111" stroke-width="1.3"/>
<line x1="80.1" y1="759.2" x2="84.1" y2="759.2" stroke="#111" stroke-width="1.3"/>
<line x1="80.1" y1="773.8" x2="84.1" y2="773.8" stroke="#111" stroke-width="1.3"/>
<circle cx="82.1" cy="766.5" r="2.1" fill="#111"/>
<line x1="94.2" y1="754.6" x2="94.2" y2="770.4" stroke="#111" stroke-width="1.3"/>
<line x1="92.2" y1="754.6" x2="96.2" y2="754.6" stroke="#111" stroke-width="1.3"/>
<line x1="92.2" y1="770.4" x2="96.2" y2="770.4" stroke="#111" stroke-width="1.3"/>
<circle cx="94.2" cy="762.3" r="2.1" fill="#111"/>
<line x1="106.5" y1="768.5" x2="106.5" y2="780" stroke="#111" stroke-width="1.3"/>
<line x1="104.5" y1="768.5" x2="108.5" y2="768.5" stroke="#111" stroke-width="1.3"/>
<line x1="104.5" y1="780" x2="108.5" y2="780" stroke="#111" stroke-width="1.3"/>
<circle cx="106.5" cy="773.8" r="2.1" fill="#111"/>
<line x1="118.1" y1="696.9" x2="118.1" y2="727.1" stroke="#111" stroke-width="1.3"/>
<line x1="116.1" y1="696.9" x2="120.1" y2="696.9" stroke="#111" stroke-width="1.3"/>
<line x1="116.1" y1="727.1" x2="120.1" y2="727.1" stroke="#111" stroke-width="1.3"/>
<circle cx="118.1" cy="711.2" r="2.1" fill="#111"/>
<rect x="302" y="746.57" width="4" height="115.43" fill="#111"/>
<rect x="303" y="747.57" width="2" height="114.43" fill="#fff"/>
<rect x="306" y="743.07" width="5" height="118.93" fill="#111"/>
<rect x="307" y="744.07" width="3" height="117.93" fill="#fff"/>
<rect x="311" y="708.67" width="4" height="153.33" fill="#111"/>
<rect x="312" y="709.67" width="2" height="152.33" fill="#fff"/>
<rect x="315" y="747.73" width="5" height="114.27" fill="#111"/>
<rect x="316" y="748.73" width="3" height="113.27" fill="#fff"/>
<rect x="320" y="741.9" width="4" height="120.1" fill="#111"/>
<rect x="321" y="742.9" width="2" height="119.1" fill="#fff"/>
<rect x="324" y="737.24" width="5" height="124.76" fill="#111"/>
<rect x="325" y="738.24" width="3" height="123.76" fill="#fff"/>
<rect x="334" y="850.34" width="4" height="11.66" fill="#111"/>
<rect x="335" y="851.34" width="2" height="10.66" fill="#fff"/>
<rect x="338" y="848.59" width="4" height="13.41" fill="#111"/>
<rect x="339" y="849.59" width="2" height="12.41" fill="#fff"/>
<rect x="342" y="859.67" width="4" height="2.33" fill="#111"/>
<rect x="343" y="860.67" width="2" height="1.33" fill="#fff"/>
<rect x="346" y="855.59" width="4" height="6.41" fill="#111"/>
<rect x="347" y="856.59" width="2" height="5.41" fill="#fff"/>
<rect x="350" y="841.01" width="4" height="20.99" fill="#111"/>
<rect x="351" y="842.01" width="2" height="19.99" fill="#fff"/>
<rect x="354" y="835.76" width="4" height="26.24" fill="#111"/>
<rect x="355" y="836.76" width="2" height="25.24" fill="#fff"/>
<rect x="365" y="709.84" width="4" height="152.16" fill="#111"/>
<rect x="366" y="710.84" width="2" height="151.16" fill="#fff"/>
<rect x="369" y="731.41" width="4" height="130.59" fill="#111"/>
<rect x="370" y="732.41" width="2" height="129.59" fill="#fff"/>
<rect x="373" y="697.01" width="4" height="164.99" fill="#111"/>
<rect x="374" y="698.01" width="2" height="163.99" fill="#fff"/>
<rect x="377" y="736.65" width="5" height="125.35" fill="#111"/>
<rect x="378" y="737.65" width="3" height="124.35" fill="#fff"/>
<rect x="382" y="750.65" width="4" height="111.35" fill="#111"/>
<rect x="383" y="751.65" width="2" height="110.35" fill="#fff"/>
<rect x="386" y="724.41" width="4" height="137.59" fill="#111"/>
<rect x="387" y="725.41" width="2" height="136.59" fill="#fff"/>
<rect x="394" y="806.03" width="5" height="55.97" fill="#111"/>
<rect x="395" y="807.03" width="3" height="54.97" fill="#fff"/>
<rect x="399" y="800.78" width="4" height="61.22" fill="#111"/>
<rect x="400" y="801.78" width="2" height="60.22" fill="#fff"/>
<rect x="403" y="816.53" width="4" height="45.47" fill="#111"/>
<rect x="404" y="817.53" width="2" height="44.47" fill="#fff"/>
<rect x="407" y="808.95" width="5" height="53.05" fill="#111"/>
<rect x="408" y="809.95" width="3" height="52.05" fill="#fff"/>
<rect x="412" y="814.19" width="4" height="47.81" fill="#111"/>
<rect x="413" y="815.19" width="2" height="46.81" fill="#fff"/>
<rect x="416" y="843.34" width="4" height="18.66" fill="#111"/>
<rect x="417" y="844.34" width="2" height="17.66" fill="#fff"/>
<rect x="424" y="838.1" width="5" height="23.9" fill="#111"/>
<rect x="425" y="839.1" width="3" height="22.9" fill="#fff"/>
<rect x="429" y="853.25" width="4" height="8.75" fill="#111"/>
<rect x="430" y="854.25" width="2" height="7.75" fill="#fff"/>
<rect x="433" y="857.34" width="4" height="4.66" fill="#111"/>
<rect x="434" y="858.34" width="2" height="3.66" fill="#fff"/>
<rect x="437" y="834.02" width="5" height="27.98" fill="#111"/>
<rect x="438" y="835.02" width="3" height="26.98" fill="#fff"/>
<rect x="442" y="833.43" width="4" height="28.57" fill="#111"/>
<rect x="443" y="834.43" width="2" height="27.57" fill="#fff"/>
<rect x="446" y="841.01" width="4" height="20.99" fill="#111"/>
<rect x="447" y="842.01" width="2" height="19.99" fill="#fff"/>
<rect x="456" y="860.25" width="4" height="1.75" fill="#111"/>
<rect x="457" y="861.25" width="2" height="0.75" fill="#fff"/>
<rect x="460" y="842.76" width="4" height="19.24" fill="#111"/>
<rect x="461" y="843.76" width="2" height="18.24" fill="#fff"/>
<rect x="464" y="857.34" width="4" height="4.66" fill="#111"/>
<rect x="465" y="858.34" width="2" height="3.66" fill="#fff"/>
<rect x="468" y="821.77" width="5" height="40.23" fill="#111"/>
<rect x="469" y="822.77" width="3" height="39.23" fill="#fff"/>
<rect x="473" y="832.85" width="4" height="29.15" fill="#111"/>
<rect x="474" y="833.85" width="2" height="28.15" fill="#fff"/>
<rect x="477" y="821.77" width="4" height="40.23" fill="#111"/>
<rect x="478" y="822.77" width="2" height="39.23" fill="#fff"/>
<rect x="486" y="818.27" width="4" height="43.73" fill="#111"/>
<rect x="487" y="819.27" width="2" height="42.73" fill="#fff"/>
<rect x="490" y="808.95" width="4" height="53.05" fill="#111"/>
<rect x="491" y="809.95" width="2" height="52.05" fill="#fff"/>
<rect x="494" y="835.18" width="5" height="26.82" fill="#111"/>
<rect x="495" y="836.18" width="3" height="25.82" fill="#fff"/>
<rect x="499" y="823.52" width="4" height="38.48" fill="#111"/>
<rect x="500" y="824.52" width="2" height="37.48" fill="#fff"/>
<rect x="503" y="815.94" width="5" height="46.06" fill="#111"/>
<rect x="504" y="816.94" width="3" height="45.06" fill="#fff"/>
<rect x="508" y="826.44" width="4" height="35.56" fill="#111"/>
<rect x="509" y="827.44" width="2" height="34.56" fill="#fff"/>
<line x1="300.5" y1="687.8" x2="300.5" y2="865" stroke="#111" stroke-width="1.6"/>
<line x1="299.7" y1="862" x2="514.5" y2="862" stroke="#111" stroke-width="1.5"/>
<line x1="297.5" y1="688.4" x2="300.5" y2="688.4" stroke="#111" stroke-width="1.3"/>
<line x1="331.2" y1="862" x2="331.2" y2="865.5" stroke="#111" stroke-width="1.3"/>
<line x1="361.5" y1="862" x2="361.5" y2="865.5" stroke="#111" stroke-width="1.3"/>
<line x1="392.3" y1="862" x2="392.3" y2="865.5" stroke="#111" stroke-width="1.3"/>
<line x1="422.5" y1="862" x2="422.5" y2="865.5" stroke="#111" stroke-width="1.3"/>
<line x1="453.1" y1="862" x2="453.1" y2="865.5" stroke="#111" stroke-width="1.3"/>
<line x1="483.8" y1="862" x2="483.8" y2="865.5" stroke="#111" stroke-width="1.3"/>
<line x1="514.2" y1="862" x2="514.2" y2="865.5" stroke="#111" stroke-width="1.3"/>
<line x1="297" y1="862" x2="300.5" y2="862" stroke="#111" stroke-width="1.3"/>
<text transform="translate(294.3,865) scale(1.25,1)" class="yt" text-anchor="end">0.0</text>
<line x1="297" y1="832.85" x2="300.5" y2="832.85" stroke="#111" stroke-width="1.3"/>
<text transform="translate(294.3,835.85) scale(1.25,1)" class="yt" text-anchor="end">0.5</text>
<line x1="297" y1="803.7" x2="300.5" y2="803.7" stroke="#111" stroke-width="1.3"/>
<text transform="translate(294.3,806.7) scale(1.25,1)" class="yt" text-anchor="end">1.0</text>
<line x1="297" y1="774.55" x2="300.5" y2="774.55" stroke="#111" stroke-width="1.3"/>
<text transform="translate(294.3,777.55) scale(1.25,1)" class="yt" text-anchor="end">1.5</text>
<line x1="297" y1="745.4" x2="300.5" y2="745.4" stroke="#111" stroke-width="1.3"/>
<text transform="translate(294.3,748.4) scale(1.25,1)" class="yt" text-anchor="end">2.0</text>
<line x1="297" y1="716.25" x2="300.5" y2="716.25" stroke="#111" stroke-width="1.3"/>
<text transform="translate(294.3,719.25) scale(1.25,1)" class="yt" text-anchor="end">2.5</text>
<text x="315.2" y="883.9" class="xl" text-anchor="middle" textLength="25" lengthAdjust="spacingAndGlyphs">GMP</text>
<text x="345.95" y="883.9" class="xl" text-anchor="middle" textLength="24.3" lengthAdjust="spacingAndGlyphs">MEP</text>
<text x="376.65" y="883.9" class="xl" text-anchor="middle" textLength="24.1" lengthAdjust="spacingAndGlyphs">CMP</text>
<text x="407.3" y="883.9" class="xl" text-anchor="middle" textLength="22.6" lengthAdjust="spacingAndGlyphs">HSC</text>
<text x="438.05" y="883.9" class="xl" text-anchor="middle" textLength="21.5" lengthAdjust="spacingAndGlyphs">CLP</text>
<text x="470.65" y="883.9" class="xl" text-anchor="middle" textLength="27.5" lengthAdjust="spacingAndGlyphs">pro-B</text>
<text x="499.1" y="883.9" class="xl" text-anchor="middle" textLength="25.6" lengthAdjust="spacingAndGlyphs">pro-T</text>
<rect x="426.3" y="686.3" width="89.3" height="92.7" fill="#fff" stroke="#111" stroke-width="1.6"/>
<polyline fill="none" stroke="#111" stroke-width="1.7" stroke-linejoin="miter" points="433.1,712.3 445.6,770.8 458.5,706 471,753.1 483.5,767.5 496.9,765.6 508.8,756.5"/>
<line x1="433.1" y1="704.6" x2="433.1" y2="720.8" stroke="#111" stroke-width="1.3"/>
<line x1="431.1" y1="704.6" x2="435.1" y2="704.6" stroke="#111" stroke-width="1.3"/>
<line x1="431.1" y1="720.8" x2="435.1" y2="720.8" stroke="#111" stroke-width="1.3"/>
<circle cx="433.1" cy="712.3" r="2.1" fill="#111"/>
<line x1="445.6" y1="766.2" x2="445.6" y2="775.8" stroke="#111" stroke-width="1.3"/>
<line x1="443.6" y1="766.2" x2="447.6" y2="766.2" stroke="#111" stroke-width="1.3"/>
<line x1="443.6" y1="775.8" x2="447.6" y2="775.8" stroke="#111" stroke-width="1.3"/>
<circle cx="445.6" cy="770.8" r="2.1" fill="#111"/>
<line x1="458.5" y1="695.4" x2="458.5" y2="716.2" stroke="#111" stroke-width="1.3"/>
<line x1="456.5" y1="695.4" x2="460.5" y2="695.4" stroke="#111" stroke-width="1.3"/>
<line x1="456.5" y1="716.2" x2="460.5" y2="716.2" stroke="#111" stroke-width="1.3"/>
<circle cx="458.5" cy="706" r="2.1" fill="#111"/>
<line x1="471" y1="745.8" x2="471" y2="761.7" stroke="#111" stroke-width="1.3"/>
<line x1="469" y1="745.8" x2="473" y2="745.8" stroke="#111" stroke-width="1.3"/>
<line x1="469" y1="761.7" x2="473" y2="761.7" stroke="#111" stroke-width="1.3"/>
<circle cx="471" cy="753.1" r="2.1" fill="#111"/>
<line x1="483.5" y1="762.7" x2="483.5" y2="772.7" stroke="#111" stroke-width="1.3"/>
<line x1="481.5" y1="762.7" x2="485.5" y2="762.7" stroke="#111" stroke-width="1.3"/>
<line x1="481.5" y1="772.7" x2="485.5" y2="772.7" stroke="#111" stroke-width="1.3"/>
<circle cx="483.5" cy="767.5" r="2.1" fill="#111"/>
<line x1="496.9" y1="757.3" x2="496.9" y2="774.6" stroke="#111" stroke-width="1.3"/>
<line x1="494.9" y1="757.3" x2="498.9" y2="757.3" stroke="#111" stroke-width="1.3"/>
<line x1="494.9" y1="774.6" x2="498.9" y2="774.6" stroke="#111" stroke-width="1.3"/>
<circle cx="496.9" cy="765.6" r="2.1" fill="#111"/>
<line x1="508.8" y1="751.5" x2="508.8" y2="761.2" stroke="#111" stroke-width="1.3"/>
<line x1="506.8" y1="751.5" x2="510.8" y2="751.5" stroke="#111" stroke-width="1.3"/>
<line x1="506.8" y1="761.2" x2="510.8" y2="761.2" stroke="#111" stroke-width="1.3"/>
<circle cx="508.8" cy="756.5" r="2.1" fill="#111"/>
<text transform="translate(12.2,311.3) rotate(-90)" class="yl" text-anchor="middle" textLength="85" lengthAdjust="spacingAndGlyphs">fold over average</text>
</svg>
</body></html>
